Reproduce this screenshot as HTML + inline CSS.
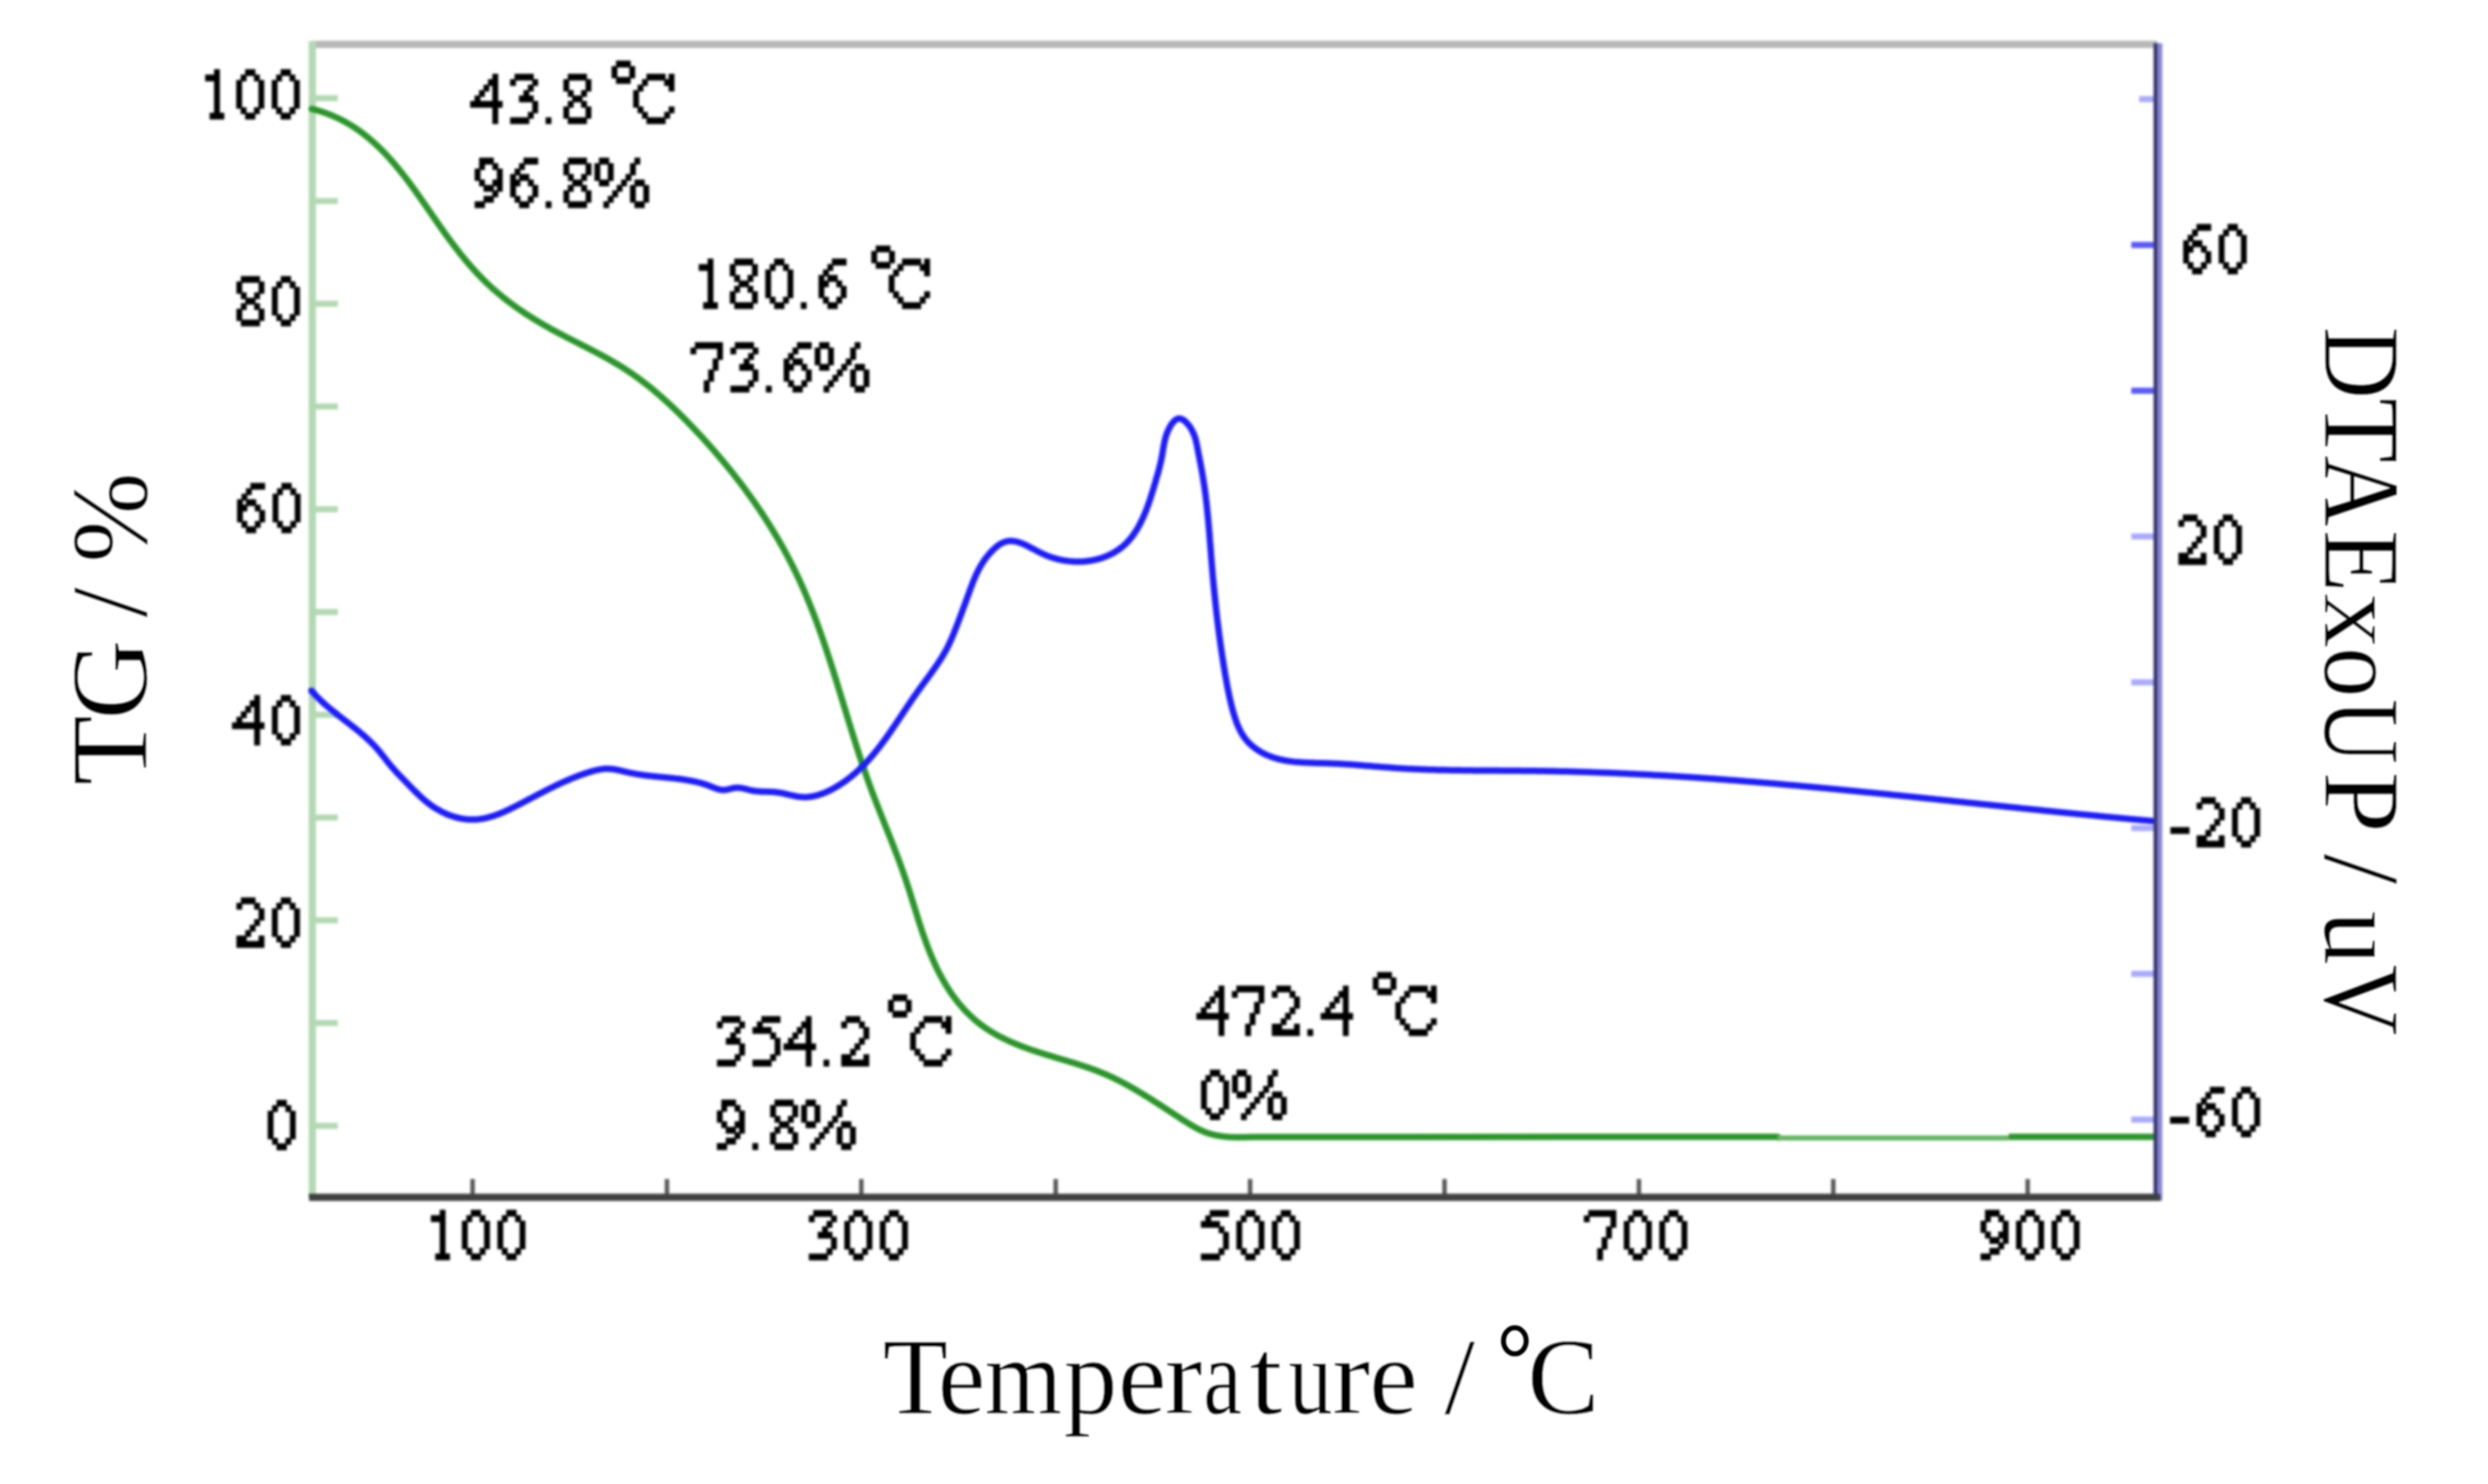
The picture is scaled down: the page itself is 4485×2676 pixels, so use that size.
<!DOCTYPE html>
<html><head><meta charset="utf-8"><title>TG-DTA</title>
<style>html,body{margin:0;padding:0;background:#fff;width:4485px;height:2676px;overflow:hidden}svg{display:block}</style>
</head><body>
<svg xmlns="http://www.w3.org/2000/svg" width="4485" height="2676" viewBox="0 0 4485 2676"><defs><filter id="bl" filterUnits="userSpaceOnUse" x="0" y="0" width="4485" height="2676"><feGaussianBlur stdDeviation="1.9"/></filter><filter id="bl2" filterUnits="userSpaceOnUse" x="0" y="0" width="4485" height="2676"><feGaussianBlur stdDeviation="2.2"/></filter><filter id="bl3" filterUnits="userSpaceOnUse" x="0" y="0" width="4485" height="2676"><feGaussianBlur stdDeviation="1.4"/></filter></defs>
<rect x="0" y="0" width="4485" height="2676" fill="#ffffff"/>
<g filter="url(#bl2)"><rect x="563.0" y="73.5" width="3326.0" height="13.0" fill="#b8b8b8"/><rect x="556.5" y="74.0" width="13.0" height="2085.0" fill="#b3d9b3"/><rect x="563.0" y="2024.6" width="46.0" height="11.0" fill="#b3d9b3"/><rect x="563.0" y="1839.3" width="46.0" height="11.0" fill="#b3d9b3"/><rect x="563.0" y="1654.0" width="46.0" height="11.0" fill="#b3d9b3"/><rect x="563.0" y="1468.7" width="46.0" height="11.0" fill="#b3d9b3"/><rect x="563.0" y="1283.4" width="46.0" height="11.0" fill="#b3d9b3"/><rect x="563.0" y="1098.1" width="46.0" height="11.0" fill="#b3d9b3"/><rect x="563.0" y="912.8" width="46.0" height="11.0" fill="#b3d9b3"/><rect x="563.0" y="727.5" width="46.0" height="11.0" fill="#b3d9b3"/><rect x="563.0" y="542.2" width="46.0" height="11.0" fill="#b3d9b3"/><rect x="563.0" y="356.9" width="46.0" height="11.0" fill="#b3d9b3"/><rect x="563.0" y="171.6" width="46.0" height="11.0" fill="#b3d9b3"/><rect x="3842.0" y="2013.4" width="47.0" height="11.0" fill="#aaaaff"/><rect x="3842.0" y="1750.5" width="47.0" height="11.0" fill="#aaaaff"/><rect x="3842.0" y="1487.7" width="47.0" height="11.0" fill="#aaaaff"/><rect x="3842.0" y="1224.8" width="47.0" height="11.0" fill="#aaaaff"/><rect x="3842.0" y="961.9" width="47.0" height="11.0" fill="#aaaaff"/><rect x="3842.0" y="699.1" width="47.0" height="11.0" fill="#5a5aff"/><rect x="3842.0" y="436.2" width="47.0" height="11.0" fill="#5a5aff"/><rect x="3856.0" y="173.3" width="33.0" height="11.0" fill="#aaaaff"/><rect x="847.9" y="2126.0" width="8.0" height="33.0" fill="#5a5a5a"/><rect x="1198.3" y="2126.0" width="8.0" height="33.0" fill="#5a5a5a"/><rect x="1548.7" y="2126.0" width="8.0" height="33.0" fill="#5a5a5a"/><rect x="1899.1" y="2126.0" width="8.0" height="33.0" fill="#5a5a5a"/><rect x="2249.5" y="2126.0" width="8.0" height="33.0" fill="#5a5a5a"/><rect x="2600.0" y="2126.0" width="8.0" height="33.0" fill="#5a5a5a"/><rect x="2950.4" y="2126.0" width="8.0" height="33.0" fill="#5a5a5a"/><rect x="3300.8" y="2126.0" width="8.0" height="33.0" fill="#5a5a5a"/><rect x="3651.2" y="2126.0" width="8.0" height="33.0" fill="#5a5a5a"/></g>
<path d="M562.1 196.4L566.3 197.5 570.4 198.6 574.5 199.8 578.5 201.0 582.5 202.3 586.4 203.7 590.3 205.1 594.2 206.6 598.0 208.1 601.7 209.7 605.4 211.4 609.1 213.1 612.7 214.8 616.3 216.6 619.8 218.5 623.3 220.4 626.7 222.4 630.1 224.4 633.5 226.4 636.8 228.5 640.1 230.7 643.4 232.9 646.6 235.1 649.8 237.4 652.9 239.7 656.0 242.1 659.1 244.5 662.1 247.0 665.2 249.5 668.1 252.0 671.1 254.6 674.0 257.2 676.9 259.8 679.8 262.5 682.6 265.2 685.4 267.9 688.2 270.7 691.0 273.5 693.7 276.3 696.4 279.2 699.1 282.1 701.7 285.0 704.4 288.0 707.0 290.9 709.6 293.9 712.2 297.0 714.7 300.0 717.2 303.1 719.8 306.2 722.3 309.3 724.8 312.4 727.2 315.5 729.7 318.7 732.1 321.9 734.5 325.1 737.0 328.3 739.4 331.5 741.7 334.8 744.1 338.0 746.5 341.3 748.9 344.6 751.2 347.8 753.5 351.1 755.9 354.4 758.2 357.7 760.5 361.0 762.8 364.4 765.2 367.7 767.5 371.0 769.8 374.3 772.1 377.7 774.4 381.0 776.7 384.3 779.0 387.7 781.3 391.0 783.6 394.3 785.9 397.6 788.2 401.0 790.5 404.3 792.8 407.6 795.2 410.9 797.5 414.2 799.8 417.4 802.1 420.7 804.5 424.0 806.9 427.2 809.2 430.5 811.6 433.7 814.0 436.9 816.4 440.1 818.8 443.3 821.2 446.5 823.6 449.6 826.1 452.8 828.5 455.9 831.0 459.0 833.5 462.1 836.0 465.2 838.5 468.2 841.1 471.3 843.6 474.3 846.2 477.3 848.8 480.3 851.4 483.3 854.1 486.2 856.7 489.1 859.4 492.0 862.1 494.9 864.9 497.8 867.6 500.6 870.4 503.4 873.2 506.2 876.0 509.0 878.9 511.7 881.8 514.4 884.7 517.1 887.6 519.8 890.6 522.4 893.6 525.0 896.6 527.6 899.7 530.2 902.7 532.7 905.8 535.3 908.9 537.8 912.1 540.2 915.2 542.7 918.4 545.1 921.6 547.5 924.8 549.9 928.1 552.2 931.3 554.6 934.6 556.9 937.9 559.1 941.2 561.4 944.5 563.6 947.9 565.9 951.2 568.1 954.6 570.2 958.0 572.4 961.4 574.5 964.8 576.6 968.2 578.7 971.7 580.8 975.1 582.8 978.6 584.9 982.1 586.9 985.5 588.8 989.0 590.8 992.5 592.8 996.0 594.7 999.5 596.6 1003.1 598.5 1006.6 600.4 1010.1 602.2 1013.7 604.1 1017.2 605.9 1020.7 607.8 1024.3 609.6 1027.8 611.4 1031.4 613.2 1034.9 615.0 1038.5 616.8 1042.0 618.7 1045.6 620.5 1049.1 622.3 1052.7 624.1 1056.2 625.9 1059.7 627.7 1063.3 629.5 1066.8 631.3 1070.3 633.2 1073.8 635.0 1077.3 636.8 1080.8 638.7 1084.3 640.6 1087.8 642.5 1091.3 644.4 1094.7 646.3 1098.2 648.2 1101.6 650.2 1105.0 652.2 1108.4 654.2 1111.8 656.2 1115.2 658.2 1118.6 660.3 1121.9 662.4 1125.3 664.5 1128.6 666.7 1131.9 668.9 1135.2 671.1 1138.4 673.3 1141.7 675.6 1144.9 677.9 1148.2 680.2 1151.4 682.5 1154.5 684.9 1157.7 687.3 1160.9 689.7 1164.0 692.1 1167.1 694.6 1170.2 697.1 1173.3 699.6 1176.4 702.1 1179.5 704.7 1182.5 707.3 1185.6 709.9 1188.6 712.5 1191.6 715.1 1194.6 717.8 1197.6 720.5 1200.5 723.1 1203.5 725.9 1206.5 728.6 1209.4 731.3 1212.3 734.1 1215.2 736.8 1218.1 739.6 1221.0 742.4 1223.9 745.2 1226.7 748.1 1229.6 750.9 1232.4 753.7 1235.2 756.6 1238.1 759.5 1240.9 762.4 1243.7 765.3 1246.5 768.2 1249.2 771.1 1252.0 774.0 1254.8 776.9 1257.5 779.8 1260.2 782.8 1263.0 785.7 1265.7 788.7 1268.4 791.7 1271.1 794.6 1273.8 797.6 1276.5 800.6 1279.1 803.6 1281.8 806.6 1284.4 809.6 1287.1 812.6 1289.7 815.7 1292.3 818.7 1294.9 821.7 1297.5 824.8 1300.1 827.9 1302.7 830.9 1305.2 834.0 1307.8 837.1 1310.3 840.2 1312.9 843.3 1315.4 846.4 1317.9 849.5 1320.4 852.6 1322.9 855.8 1325.3 858.9 1327.8 862.1 1330.2 865.2 1332.7 868.4 1335.1 871.6 1337.5 874.7 1339.9 877.9 1342.3 881.1 1344.6 884.3 1347.0 887.6 1349.3 890.8 1351.7 894.0 1354.0 897.3 1356.3 900.5 1358.6 903.8 1360.9 907.0 1363.1 910.3 1365.4 913.6 1367.6 916.9 1369.9 920.2 1372.1 923.5 1374.3 926.8 1376.4 930.1 1378.6 933.4 1380.8 936.8 1382.9 940.1 1385.0 943.5 1387.2 946.8 1389.3 950.2 1391.3 953.6 1393.4 957.0 1395.5 960.4 1397.5 963.8 1399.5 967.2 1401.6 970.6 1403.6 974.0 1405.5 977.5 1407.5 980.9 1409.5 984.4 1411.4 987.8 1413.3 991.3 1415.2 994.8 1417.1 998.3 1419.0 1001.8 1420.8 1005.3 1422.7 1008.8 1424.5 1012.3 1426.3 1015.8 1428.1 1019.4 1429.9 1022.9 1431.6 1026.5 1433.4 1030.0 1435.1 1033.6 1436.8 1037.2 1438.5 1040.8 1440.2 1044.4 1441.9 1048.0 1443.5 1051.6 1445.1 1055.2 1446.8 1058.8 1448.4 1062.5 1449.9 1066.1 1451.5 1069.8 1453.1 1073.4 1454.6 1077.1 1456.1 1080.8 1457.6 1084.4 1459.1 1088.1 1460.6 1091.8 1462.1 1095.5 1463.6 1099.2 1465.0 1102.9 1466.5 1106.7 1467.9 1110.4 1469.3 1114.1 1470.7 1117.8 1472.1 1121.6 1473.5 1125.3 1474.8 1129.1 1476.2 1132.8 1477.5 1136.6 1478.9 1140.4 1480.2 1144.1 1481.5 1147.9 1482.9 1151.7 1484.2 1155.5 1485.5 1159.3 1486.7 1163.1 1488.0 1166.9 1489.3 1170.7 1490.6 1174.5 1491.8 1178.3 1493.1 1182.1 1494.3 1185.9 1495.6 1189.7 1496.8 1193.5 1498.0 1197.3 1499.2 1201.2 1500.5 1205.0 1501.7 1208.8 1502.9 1212.7 1504.1 1216.5 1505.3 1220.3 1506.5 1224.2 1507.7 1228.0 1508.9 1231.8 1510.0 1235.7 1511.2 1239.5 1512.4 1243.4 1513.6 1247.2 1514.8 1251.1 1515.9 1254.9 1517.1 1258.8 1518.3 1262.6 1519.5 1266.4 1520.6 1270.3 1521.8 1274.1 1523.0 1278.0 1524.2 1281.8 1525.3 1285.7 1526.5 1289.5 1527.7 1293.4 1528.9 1297.2 1530.0 1301.1 1531.2 1304.9 1532.4 1308.7 1533.6 1312.6 1534.8 1316.4 1536.0 1320.3 1537.2 1324.1 1538.4 1327.9 1539.6 1331.7 1540.8 1335.6 1542.0 1339.4 1543.2 1343.2 1544.4 1347.0 1545.6 1350.9 1546.9 1354.7 1548.1 1358.5 1549.3 1362.3 1550.6 1366.1 1551.8 1369.9 1553.1 1373.7 1554.4 1377.5 1555.6 1381.3 1556.9 1385.1 1558.2 1388.8 1559.5 1392.6 1560.8 1396.4 1562.1 1400.1 1563.5 1403.9 1564.8 1407.7 1566.1 1411.4 1567.5 1415.2 1568.9 1418.9 1570.2 1422.6 1571.6 1426.4 1573.0 1430.1 1574.4 1433.8 1575.8 1437.5 1577.2 1441.2 1578.7 1445.0 1580.1 1448.7 1581.5 1452.4 1583.0 1456.1 1584.4 1459.8 1585.9 1463.4 1587.4 1467.1 1588.8 1470.8 1590.3 1474.5 1591.8 1478.2 1593.2 1481.9 1594.7 1485.6 1596.2 1489.3 1597.6 1493.0 1599.1 1496.6 1600.6 1500.3 1602.1 1504.0 1603.5 1507.7 1605.0 1511.4 1606.4 1515.1 1607.9 1518.8 1609.3 1522.5 1610.8 1526.2 1612.2 1529.9 1613.6 1533.6 1615.1 1537.3 1616.5 1541.1 1617.9 1544.8 1619.3 1548.5 1620.7 1552.2 1622.1 1556.0 1623.4 1559.7 1624.8 1563.5 1626.1 1567.2 1627.5 1571.0 1628.8 1574.8 1630.1 1578.6 1631.4 1582.4 1632.7 1586.2 1633.9 1590.0 1635.2 1593.8 1636.4 1597.6 1637.7 1601.4 1638.9 1605.3 1640.1 1609.1 1641.3 1612.9 1642.5 1616.8 1643.7 1620.6 1644.9 1624.5 1646.1 1628.3 1647.3 1632.2 1648.5 1636.0 1649.7 1639.9 1650.9 1643.7 1652.1 1647.6 1653.3 1651.4 1654.5 1655.3 1655.7 1659.1 1656.9 1663.0 1658.2 1666.8 1659.4 1670.6 1660.7 1674.4 1661.9 1678.3 1663.2 1682.1 1664.5 1685.9 1665.9 1689.7 1667.2 1693.4 1668.5 1697.2 1669.9 1701.0 1671.3 1704.7 1672.7 1708.5 1674.2 1712.2 1675.6 1715.9 1677.1 1719.6 1678.7 1723.3 1680.2 1727.0 1681.8 1730.7 1683.4 1734.3 1685.0 1737.9 1686.7 1741.5 1688.4 1745.1 1690.1 1748.7 1691.9 1752.3 1693.7 1755.8 1695.6 1759.3 1697.5 1762.8 1699.4 1766.3 1701.4 1769.8 1703.4 1773.2 1705.4 1776.6 1707.5 1780.0 1709.7 1783.4 1711.8 1786.7 1714.1 1790.0 1716.3 1793.3 1718.6 1796.5 1721.0 1799.7 1723.4 1802.8 1725.8 1806.0 1728.3 1809.1 1730.8 1812.1 1733.4 1815.1 1736.0 1818.1 1738.7 1821.0 1741.4 1823.9 1744.2 1826.7 1747.0 1829.5 1749.8 1832.2 1752.7 1834.9 1755.7 1837.5 1758.6 1840.1 1761.7 1842.7 1764.8 1845.1 1767.9 1847.5 1771.1 1849.9 1774.3 1852.2 1777.6 1854.5 1780.9 1856.6 1784.2 1858.8 1787.6 1860.9 1791.0 1862.9 1794.5 1864.9 1798.0 1866.9 1801.5 1868.8 1805.1 1870.6 1808.7 1872.4 1812.3 1874.2 1816.0 1875.9 1819.6 1877.6 1823.3 1879.2 1827.0 1880.8 1830.7 1882.4 1834.5 1883.9 1838.3 1885.4 1842.0 1886.9 1845.8 1888.3 1849.6 1889.7 1853.4 1891.1 1857.2 1892.4 1861.1 1893.8 1864.9 1895.1 1868.7 1896.3 1872.6 1897.6 1876.4 1898.8 1880.3 1900.0 1884.1 1901.2 1888.0 1902.4 1891.9 1903.6 1895.7 1904.8 1899.6 1905.9 1903.4 1907.1 1907.3 1908.2 1911.2 1909.4 1915.0 1910.5 1918.9 1911.7 1922.7 1912.8 1926.6 1914.0 1930.4 1915.2 1934.3 1916.3 1938.1 1917.5 1941.9 1918.7 1945.7 1919.9 1949.5 1921.2 1953.3 1922.4 1957.1 1923.7 1960.9 1925.0 1964.7 1926.3 1968.4 1927.6 1972.2 1929.0 1975.9 1930.4 1979.6 1931.8 1983.3 1933.3 1987.0 1934.8 1990.6 1936.3 1994.3 1937.9 1997.9 1939.5 2001.5 1941.1 2005.1 1942.8 2008.7 1944.5 2012.2 1946.3 2015.8 1948.0 2019.3 1949.8 2022.8 1951.7 2026.3 1953.5 2029.8 1955.4 2033.3 1957.3 2036.8 1959.3 2040.3 1961.2 2043.7 1963.2 2047.2 1965.2 2050.6 1967.2 2054.0 1969.3 2057.4 1971.3 2060.8 1973.4 2064.2 1975.5 2067.6 1977.6 2071.0 1979.7 2074.4 1981.8 2077.7 1984.0 2081.1 1986.1 2084.5 1988.3 2087.8 1990.4 2091.2 1992.6 2094.5 1994.8 2097.9 1997.0 2101.2 1999.1 2104.6 2001.3 2107.9 2003.5 2111.2 2005.7 2114.6 2007.9 2117.9 2010.1 2121.3 2012.2 2124.6 2014.4 2127.9 2016.6 2131.3 2018.8 2134.6 2020.9 2138.0 2023.0 2141.3 2025.2 2144.7 2027.3 2148.1 2029.3 2151.5 2031.3 2155.0 2033.2 2158.4 2035.1 2162.0 2036.9 2165.5 2038.5 2169.1 2040.1 2172.7 2041.6 2176.4 2043.0 2180.2 2044.2 2184.0 2045.3 2187.9 2046.3 2191.8 2047.1 2195.7 2047.9 2199.7 2048.5 2203.8 2049.1 2207.8 2049.5 2211.9 2049.9 2215.9 2050.2 2220.0 2050.4 2224.1 2050.6 2228.2 2050.7 2232.2 2050.8 2236.3 2050.8 2240.3 2050.7 2244.4 2050.7 2248.3 2050.6 2252.3 2050.5 2256.2 2050.3 2260.1 2050.2 L3204 2050" fill="none" stroke="#2c962c" stroke-width="11.5" stroke-linejoin="round" stroke-linecap="round" filter="url(#bl)"/>
<g filter="url(#bl)"><path d="M3204 2052 L3621 2052" fill="none" stroke="#62b662" stroke-width="9"/><path d="M3621 2050 L3890 2050" fill="none" stroke="#2c962c" stroke-width="11.5"/></g>
<path d="M561.5 1245.4L564.1 1248.4 566.8 1251.4 569.5 1254.3 572.2 1257.2 575.0 1260.0 577.9 1262.7 580.8 1265.5 583.7 1268.2 586.7 1270.8 589.7 1273.4 592.7 1276.0 595.8 1278.6 598.9 1281.1 602.0 1283.6 605.1 1286.1 608.2 1288.6 611.4 1291.0 614.5 1293.5 617.7 1295.9 620.8 1298.4 624.0 1300.8 627.2 1303.3 630.3 1305.7 633.5 1308.2 636.6 1310.7 639.7 1313.1 642.9 1315.6 646.0 1318.2 649.0 1320.7 652.1 1323.3 655.1 1325.9 658.1 1328.5 661.0 1331.2 663.9 1333.9 666.8 1336.6 669.6 1339.4 672.4 1342.2 675.2 1345.1 677.8 1348.1 680.5 1351.1 683.1 1354.1 685.6 1357.2 688.1 1360.3 690.6 1363.4 693.1 1366.5 695.6 1369.7 698.1 1372.8 700.5 1375.9 703.0 1379.0 705.5 1382.1 708.1 1385.1 710.7 1388.0 713.3 1390.9 715.9 1393.8 718.6 1396.6 721.4 1399.4 724.1 1402.2 726.8 1405.0 729.6 1407.8 732.4 1410.7 735.1 1413.6 737.9 1416.5 740.7 1419.4 743.6 1422.3 746.4 1425.2 749.3 1428.0 752.2 1430.9 755.1 1433.7 758.1 1436.5 761.1 1439.2 764.1 1441.9 767.2 1444.5 770.4 1447.1 773.6 1449.6 776.8 1452.0 780.1 1454.3 783.5 1456.5 786.9 1458.6 790.4 1460.6 793.9 1462.6 797.5 1464.4 801.1 1466.1 804.7 1467.8 808.4 1469.3 812.1 1470.7 815.8 1471.9 819.6 1473.1 823.4 1474.1 827.2 1475.1 831.0 1475.9 834.8 1476.5 838.7 1477.1 842.6 1477.5 846.4 1477.7 850.3 1477.8 854.2 1477.8 858.1 1477.7 861.9 1477.4 865.8 1476.9 869.7 1476.3 873.5 1475.6 877.4 1474.7 881.2 1473.7 885.0 1472.6 888.9 1471.5 892.7 1470.2 896.5 1468.8 900.3 1467.3 904.1 1465.8 907.8 1464.2 911.6 1462.5 915.3 1460.8 919.0 1459.0 922.7 1457.2 926.4 1455.4 930.1 1453.5 933.8 1451.7 937.4 1449.8 941.0 1447.9 944.7 1446.0 948.2 1444.1 951.8 1442.2 955.4 1440.3 958.9 1438.5 962.5 1436.6 966.0 1434.8 969.5 1432.9 973.1 1431.1 976.6 1429.3 980.1 1427.5 983.6 1425.7 987.1 1423.9 990.6 1422.1 994.2 1420.4 997.7 1418.6 1001.2 1416.9 1004.8 1415.2 1008.3 1413.6 1011.9 1411.9 1015.4 1410.3 1019.0 1408.7 1022.7 1407.1 1026.3 1405.6 1029.9 1404.0 1033.6 1402.5 1037.3 1401.1 1041.0 1399.6 1044.7 1398.2 1048.5 1396.9 1052.3 1395.5 1056.1 1394.2 1060.0 1393.0 1063.9 1391.7 1067.8 1390.6 1071.7 1389.5 1075.7 1388.6 1079.6 1387.8 1083.6 1387.1 1087.6 1386.6 1091.5 1386.3 1095.5 1386.2 1099.4 1386.4 1103.4 1386.7 1107.3 1387.3 1111.2 1388.0 1115.1 1388.8 1119.0 1389.7 1122.9 1390.6 1126.9 1391.6 1130.8 1392.5 1134.7 1393.4 1138.6 1394.2 1142.6 1394.9 1146.5 1395.6 1150.4 1396.3 1154.4 1396.9 1158.3 1397.5 1162.3 1398.0 1166.3 1398.5 1170.2 1399.0 1174.2 1399.4 1178.2 1399.8 1182.1 1400.2 1186.1 1400.6 1190.1 1401.0 1194.1 1401.4 1198.0 1401.8 1202.0 1402.2 1206.0 1402.6 1210.0 1403.0 1214.0 1403.4 1217.9 1403.9 1221.9 1404.3 1225.9 1404.8 1229.8 1405.4 1233.8 1406.0 1237.8 1406.6 1241.7 1407.3 1245.7 1408.0 1249.6 1408.8 1253.6 1409.6 1257.5 1410.5 1261.4 1411.5 1265.3 1412.6 1269.2 1413.7 1273.0 1415.0 1276.8 1416.4 1280.6 1417.9 1284.3 1419.4 1288.1 1420.9 1291.8 1422.2 1295.5 1423.3 1299.2 1424.1 1302.9 1424.5 1306.6 1424.4 1310.3 1423.9 1314.0 1423.0 1317.8 1422.1 1321.5 1421.2 1325.3 1420.6 1329.1 1420.4 1333.0 1420.6 1336.8 1421.1 1340.7 1421.9 1344.5 1422.8 1348.4 1423.8 1352.3 1424.8 1356.3 1425.7 1360.2 1426.3 1364.2 1426.8 1368.1 1427.1 1372.1 1427.4 1376.1 1427.5 1380.1 1427.6 1384.1 1427.7 1388.1 1427.8 1392.1 1428.0 1396.1 1428.3 1400.1 1428.7 1404.1 1429.2 1408.1 1429.9 1412.0 1430.7 1416.0 1431.6 1420.0 1432.6 1423.9 1433.5 1427.9 1434.4 1431.8 1435.2 1435.8 1436.0 1439.7 1436.6 1443.6 1437.1 1447.6 1437.3 1451.5 1437.4 1455.5 1437.2 1459.4 1436.8 1463.3 1436.3 1467.2 1435.5 1471.1 1434.6 1475.0 1433.6 1478.9 1432.3 1482.7 1431.0 1486.5 1429.5 1490.2 1427.9 1493.9 1426.2 1497.6 1424.4 1501.2 1422.5 1504.8 1420.5 1508.3 1418.5 1511.7 1416.4 1515.1 1414.3 1518.5 1412.0 1521.8 1409.8 1525.0 1407.5 1528.2 1405.1 1531.3 1402.7 1534.4 1400.2 1537.5 1397.7 1540.5 1395.2 1543.5 1392.6 1546.4 1389.9 1549.3 1387.2 1552.1 1384.5 1554.9 1381.7 1557.7 1378.9 1560.4 1376.1 1563.1 1373.2 1565.8 1370.3 1568.4 1367.3 1571.0 1364.3 1573.6 1361.3 1576.1 1358.3 1578.6 1355.2 1581.1 1352.1 1583.6 1349.0 1586.0 1345.8 1588.4 1342.7 1590.8 1339.5 1593.2 1336.3 1595.6 1333.0 1597.9 1329.8 1600.3 1326.5 1602.6 1323.2 1604.9 1319.9 1607.2 1316.6 1609.4 1313.3 1611.7 1310.0 1614.0 1306.6 1616.2 1303.3 1618.4 1299.9 1620.7 1296.6 1622.9 1293.2 1625.2 1289.8 1627.4 1286.5 1629.6 1283.1 1631.9 1279.8 1634.1 1276.4 1636.3 1273.0 1638.6 1269.7 1640.9 1266.4 1643.1 1263.0 1645.4 1259.7 1647.7 1256.4 1650.0 1253.1 1652.3 1249.8 1654.6 1246.6 1656.9 1243.3 1659.3 1240.1 1661.6 1236.8 1664.0 1233.6 1666.4 1230.4 1668.7 1227.2 1671.1 1224.0 1673.4 1220.8 1675.8 1217.6 1678.1 1214.4 1680.4 1211.2 1682.7 1207.9 1685.0 1204.7 1687.2 1201.5 1689.5 1198.2 1691.6 1194.9 1693.8 1191.6 1695.9 1188.3 1698.0 1185.0 1700.0 1181.6 1702.0 1178.3 1704.0 1174.8 1705.8 1171.4 1707.7 1167.9 1709.4 1164.4 1711.2 1160.8 1712.8 1157.2 1714.4 1153.6 1716.0 1150.0 1717.6 1146.3 1719.1 1142.6 1720.6 1138.9 1722.0 1135.2 1723.5 1131.4 1725.0 1127.6 1726.4 1123.9 1727.9 1120.1 1729.3 1116.3 1730.7 1112.5 1732.2 1108.7 1733.6 1104.9 1735.0 1101.1 1736.4 1097.3 1737.8 1093.5 1739.2 1089.7 1740.6 1085.9 1742.0 1082.1 1743.3 1078.4 1744.7 1074.6 1746.1 1070.9 1747.4 1067.2 1748.7 1063.5 1750.1 1059.8 1751.5 1056.2 1752.8 1052.6 1754.2 1049.0 1755.7 1045.4 1757.2 1041.8 1758.7 1038.3 1760.3 1034.8 1762.0 1031.2 1763.8 1027.8 1765.6 1024.3 1767.6 1020.8 1769.7 1017.4 1771.9 1013.9 1774.2 1010.5 1776.6 1007.1 1779.2 1003.7 1782.0 1000.4 1784.9 997.0 1788.0 993.7 1791.2 990.5 1794.5 987.5 1797.9 984.7 1801.3 982.2 1804.8 980.0 1808.3 978.3 1811.7 977.0 1815.2 976.2 1818.7 975.6 1822.1 975.5 1825.6 975.6 1829.1 976.1 1832.6 976.8 1836.1 977.8 1839.6 978.9 1843.1 980.3 1846.6 981.8 1850.2 983.5 1853.8 985.3 1857.4 987.2 1861.0 989.1 1864.7 991.0 1868.4 993.0 1872.1 994.9 1875.9 996.8 1879.7 998.6 1883.5 1000.4 1887.4 1002.0 1891.3 1003.5 1895.2 1004.9 1899.2 1006.1 1903.2 1007.3 1907.2 1008.3 1911.3 1009.3 1915.3 1010.1 1919.4 1010.8 1923.4 1011.4 1927.5 1011.9 1931.6 1012.3 1935.6 1012.6 1939.7 1012.7 1943.8 1012.8 1947.8 1012.7 1951.8 1012.5 1955.8 1012.2 1959.8 1011.8 1963.8 1011.3 1967.7 1010.7 1971.6 1009.9 1975.4 1009.1 1979.3 1008.1 1983.0 1007.1 1986.8 1005.9 1990.4 1004.6 1994.1 1003.2 1997.6 1001.7 2001.1 1000.0 2004.6 998.3 2007.9 996.4 2011.2 994.5 2014.5 992.4 2017.6 990.2 2020.7 987.9 2023.7 985.5 2026.6 983.0 2029.4 980.4 2032.1 977.6 2034.8 974.8 2037.3 971.8 2039.7 968.8 2042.1 965.7 2044.4 962.4 2046.6 959.1 2048.8 955.7 2050.8 952.3 2052.8 948.8 2054.7 945.2 2056.6 941.5 2058.4 937.8 2060.2 934.1 2061.8 930.3 2063.5 926.5 2065.1 922.6 2066.6 918.7 2068.1 914.8 2069.5 910.8 2070.9 906.9 2072.3 902.9 2073.6 898.9 2074.9 895.0 2076.1 891.0 2077.4 887.0 2078.6 883.1 2079.8 879.2 2080.9 875.3 2082.1 871.4 2083.2 867.5 2084.3 863.7 2085.4 859.9 2086.5 856.1 2087.6 852.4 2088.6 848.7 2089.6 844.9 2090.5 841.2 2091.4 837.5 2092.3 833.8 2093.1 830.0 2093.9 826.3 2094.6 822.5 2095.3 818.7 2095.9 814.9 2096.5 811.1 2097.2 807.2 2097.8 803.4 2098.6 799.5 2099.4 795.6 2100.3 791.7 2101.4 787.8 2102.6 783.9 2104.1 780.0 2105.8 776.0 2107.7 772.1 2109.9 768.2 2112.3 764.4 2115.1 760.9 2118.0 758.0 2121.0 755.9 2124.3 754.7 2127.6 754.8 2131.0 756.0 2134.3 758.0 2137.5 760.8 2140.6 764.1 2143.5 767.7 2146.1 771.4 2148.3 775.2 2150.2 779.0 2151.9 782.7 2153.4 786.5 2154.6 790.3 2155.7 794.1 2156.6 798.0 2157.5 801.8 2158.2 805.6 2159.0 809.5 2159.7 813.4 2160.4 817.2 2161.2 821.1 2161.9 825.0 2162.7 828.9 2163.4 832.9 2164.2 836.8 2164.9 840.7 2165.7 844.7 2166.4 848.6 2167.1 852.6 2167.8 856.5 2168.4 860.5 2169.1 864.4 2169.7 868.4 2170.3 872.4 2170.9 876.3 2171.5 880.3 2172.0 884.3 2172.5 888.2 2173.1 892.2 2173.6 896.2 2174.0 900.1 2174.5 904.1 2175.0 908.1 2175.4 912.0 2175.8 916.0 2176.2 920.0 2176.6 924.0 2177.0 927.9 2177.4 931.9 2177.8 935.9 2178.2 939.9 2178.5 943.8 2178.9 947.8 2179.2 951.8 2179.5 955.8 2179.9 959.8 2180.2 963.7 2180.5 967.7 2180.8 971.7 2181.1 975.7 2181.5 979.7 2181.8 983.7 2182.1 987.7 2182.4 991.6 2182.7 995.6 2183.0 999.6 2183.3 1003.6 2183.6 1007.6 2184.0 1011.6 2184.3 1015.6 2184.6 1019.5 2185.0 1023.5 2185.3 1027.5 2185.6 1031.5 2186.0 1035.5 2186.3 1039.5 2186.7 1043.5 2187.1 1047.4 2187.4 1051.4 2187.8 1055.4 2188.2 1059.4 2188.6 1063.4 2189.0 1067.4 2189.4 1071.3 2189.8 1075.3 2190.2 1079.3 2190.6 1083.3 2191.0 1087.3 2191.4 1091.3 2191.9 1095.2 2192.3 1099.2 2192.8 1103.2 2193.2 1107.2 2193.7 1111.1 2194.1 1115.1 2194.6 1119.1 2195.1 1123.1 2195.6 1127.0 2196.1 1131.0 2196.6 1135.0 2197.1 1138.9 2197.6 1142.9 2198.1 1146.9 2198.6 1150.8 2199.2 1154.8 2199.7 1158.7 2200.3 1162.7 2200.8 1166.7 2201.4 1170.6 2202.0 1174.6 2202.6 1178.5 2203.2 1182.5 2203.8 1186.4 2204.4 1190.4 2205.0 1194.3 2205.6 1198.2 2206.3 1202.2 2206.9 1206.1 2207.6 1210.0 2208.2 1214.0 2208.9 1217.9 2209.6 1221.8 2210.3 1225.8 2211.0 1229.7 2211.7 1233.6 2212.4 1237.5 2213.2 1241.4 2214.0 1245.3 2214.8 1249.3 2215.6 1253.2 2216.4 1257.1 2217.3 1261.0 2218.2 1264.9 2219.1 1268.8 2220.1 1272.7 2221.1 1276.6 2222.1 1280.5 2223.2 1284.4 2224.4 1288.3 2225.5 1292.2 2226.8 1296.1 2228.1 1299.9 2229.5 1303.8 2231.0 1307.5 2232.6 1311.2 2234.3 1314.9 2236.1 1318.5 2238.0 1322.0 2240.1 1325.4 2242.3 1328.7 2244.6 1331.9 2247.1 1335.0 2249.8 1338.0 2252.6 1340.9 2255.6 1343.6 2258.6 1346.2 2261.8 1348.7 2265.1 1351.1 2268.4 1353.3 2271.9 1355.4 2275.4 1357.4 2278.9 1359.3 2282.5 1361.0 2286.2 1362.5 2289.9 1364.0 2293.6 1365.4 2297.3 1366.6 2301.1 1367.7 2305.0 1368.8 2308.8 1369.7 2312.7 1370.5 2316.6 1371.3 2320.5 1372.0 2324.5 1372.6 2328.5 1373.1 2332.5 1373.6 2336.5 1374.0 2340.5 1374.3 2344.5 1374.6 2348.6 1374.9 2352.7 1375.1 2356.7 1375.3 2360.8 1375.5 2364.9 1375.6 2369.0 1375.7 2373.1 1375.9 2377.2 1376.0 2381.3 1376.1 2385.4 1376.2 2389.5 1376.3 2393.5 1376.4 2397.6 1376.6 2401.7 1376.7 2405.7 1376.9 2409.7 1377.1 2413.8 1377.3 2417.8 1377.5 2421.8 1377.8 2425.8 1378.0 2429.8 1378.3 2433.9 1378.6 2437.8 1378.8 2441.8 1379.1 2445.8 1379.4 2449.8 1379.7 2453.8 1380.0 2457.8 1380.4 2461.7 1380.7 2465.7 1381.0 2469.7 1381.3 2473.6 1381.6 2477.6 1382.0 2481.5 1382.3 2485.5 1382.6 2489.5 1382.9 2493.4 1383.2 2497.4 1383.5 2501.3 1383.8 2505.3 1384.1 2509.2 1384.4 2513.2 1384.7 2517.1 1385.0 2521.1 1385.2 2525.1 1385.5 2529.0 1385.7 2533.0 1385.9 2537.0 1386.2 2540.9 1386.4 2544.9 1386.6 2548.9 1386.8 2552.8 1387.0 2556.8 1387.1 2560.8 1387.3 2564.8 1387.5 2568.7 1387.6 2572.7 1387.7 2576.7 1387.9 2580.7 1388.0 2584.7 1388.1 2588.7 1388.2 2592.6 1388.4 2596.6 1388.5 2600.6 1388.5 2604.6 1388.6 2608.6 1388.7 2612.6 1388.8 2616.6 1388.9 2620.6 1388.9 2624.6 1389.0 2628.5 1389.1 2632.5 1389.1 2636.5 1389.2 2640.5 1389.2 2644.5 1389.3 2648.5 1389.3 2652.5 1389.3 2656.5 1389.4 2660.5 1389.4 2664.5 1389.4 2668.5 1389.5 2672.5 1389.5 2676.5 1389.5 2680.5 1389.5 2684.5 1389.6 2688.5 1389.6 2692.5 1389.6 2696.5 1389.6 2700.6 1389.6 2704.6 1389.7 2708.6 1389.7 2712.6 1389.7 2716.6 1389.7 2720.6 1389.7 2724.6 1389.8 2728.6 1389.8 2732.6 1389.8 2736.6 1389.8 2740.6 1389.8 2744.6 1389.9 2748.6 1389.9 2752.6 1389.9 2756.6 1390.0 2760.6 1390.0 2764.6 1390.1 2768.6 1390.1 2772.6 1390.2 2776.6 1390.2 2780.6 1390.3 2784.7 1390.3 2788.7 1390.4 2792.7 1390.5 2796.7 1390.5 2800.7 1390.6 2804.7 1390.7 2808.7 1390.8 2812.7 1390.9 2816.7 1391.0 2820.7 1391.0 2824.7 1391.1 2828.7 1391.2 2832.7 1391.3 2836.7 1391.5 2840.7 1391.6 2844.7 1391.7 2848.7 1391.8 2852.7 1391.9 2856.7 1392.0 2860.7 1392.2 2864.7 1392.3 2868.7 1392.4 2872.7 1392.6 2876.7 1392.7 2880.6 1392.9 2884.6 1393.0 2888.6 1393.2 2892.6 1393.3 2896.6 1393.5 2900.6 1393.6 2904.6 1393.8 2908.6 1394.0 2912.6 1394.1 2916.6 1394.3 2920.6 1394.5 2924.6 1394.7 2928.6 1394.8 2932.6 1395.0 2936.6 1395.2 2940.6 1395.4 2944.6 1395.6 2948.6 1395.8 2952.6 1396.0 2956.5 1396.2 2960.5 1396.4 2964.5 1396.6 2968.5 1396.8 2972.5 1397.0 2976.5 1397.2 2980.5 1397.5 2984.5 1397.7 2988.5 1397.9 2992.5 1398.1 2996.5 1398.4 3000.5 1398.6 3004.4 1398.8 3008.4 1399.1 3012.4 1399.3 3016.4 1399.5 3020.4 1399.8 3024.4 1400.0 3028.4 1400.3 3032.4 1400.5 3036.4 1400.8 3040.4 1401.0 3044.3 1401.3 3048.3 1401.6 3052.3 1401.8 3056.3 1402.1 3060.3 1402.4 3064.3 1402.6 3068.3 1402.9 3072.3 1403.2 3076.2 1403.5 3080.2 1403.8 3084.2 1404.0 3088.2 1404.3 3092.2 1404.6 3096.2 1404.9 3100.2 1405.2 3104.1 1405.5 3108.1 1405.8 3112.1 1406.1 3116.1 1406.4 3120.1 1406.7 3124.1 1407.0 3128.1 1407.3 3132.0 1407.6 3136.0 1407.9 3140.0 1408.2 3144.0 1408.5 3148.0 1408.9 3152.0 1409.2 3155.9 1409.5 3159.9 1409.8 3163.9 1410.1 3167.9 1410.5 3171.9 1410.8 3175.9 1411.1 3179.9 1411.5 3183.8 1411.8 3187.8 1412.1 3191.8 1412.5 3195.8 1412.8 3199.8 1413.1 3203.7 1413.5 3207.7 1413.8 3211.7 1414.2 3215.7 1414.5 3219.7 1414.9 3223.7 1415.2 3227.6 1415.6 3231.6 1415.9 3235.6 1416.3 3239.6 1416.6 3243.6 1417.0 3247.5 1417.4 3251.5 1417.7 3255.5 1418.1 3259.5 1418.5 3263.5 1418.8 3267.4 1419.2 3271.4 1419.6 3275.4 1419.9 3279.4 1420.3 3283.4 1420.7 3287.4 1421.0 3291.3 1421.4 3295.3 1421.8 3299.3 1422.2 3303.3 1422.5 3307.3 1422.9 3311.2 1423.3 3315.2 1423.7 3319.2 1424.1 3323.2 1424.5 3327.1 1424.8 3331.1 1425.2 3335.1 1425.6 3339.1 1426.0 3343.1 1426.4 3347.0 1426.8 3351.0 1427.2 3355.0 1427.6 3359.0 1428.0 3363.0 1428.4 3366.9 1428.7 3370.9 1429.1 3374.9 1429.5 3378.9 1429.9 3382.9 1430.3 3386.8 1430.7 3390.8 1431.1 3394.8 1431.5 3398.8 1431.9 3402.7 1432.3 3406.7 1432.7 3410.7 1433.2 3414.7 1433.6 3418.7 1434.0 3422.6 1434.4 3426.6 1434.8 3430.6 1435.2 3434.6 1435.6 3438.5 1436.0 3442.5 1436.4 3446.5 1436.8 3450.5 1437.2 3454.5 1437.6 3458.4 1438.0 3462.4 1438.5 3466.4 1438.9 3470.4 1439.3 3474.3 1439.7 3478.3 1440.1 3482.3 1440.5 3486.3 1440.9 3490.2 1441.4 3494.2 1441.8 3498.2 1442.2 3502.2 1442.6 3506.2 1443.0 3510.1 1443.4 3514.1 1443.8 3518.1 1444.3 3522.1 1444.7 3526.0 1445.1 3530.0 1445.5 3534.0 1445.9 3538.0 1446.3 3542.0 1446.8 3545.9 1447.2 3549.9 1447.6 3553.9 1448.0 3557.9 1448.4 3561.8 1448.8 3565.8 1449.3 3569.8 1449.7 3573.8 1450.1 3577.7 1450.5 3581.7 1450.9 3585.7 1451.3 3589.7 1451.8 3593.7 1452.2 3597.6 1452.6 3601.6 1453.0 3605.6 1453.4 3609.6 1453.8 3613.5 1454.3 3617.5 1454.7 3621.5 1455.1 3625.5 1455.5 3629.5 1455.9 3633.4 1456.3 3637.4 1456.7 3641.4 1457.1 3645.4 1457.6 3649.3 1458.0 3653.3 1458.4 3657.3 1458.8 3661.3 1459.2 3665.2 1459.6 3669.2 1460.0 3673.2 1460.4 3677.2 1460.8 3681.2 1461.3 3685.1 1461.7 3689.1 1462.1 3693.1 1462.5 3697.1 1462.9 3701.1 1463.3 3705.0 1463.7 3709.0 1464.1 3713.0 1464.5 3717.0 1464.9 3720.9 1465.3 3724.9 1465.7 3728.9 1466.1 3732.9 1466.5 3736.9 1466.9 3740.8 1467.3 3744.8 1467.7 3748.8 1468.1 3752.8 1468.5 3756.8 1468.9 3760.7 1469.3 3764.7 1469.6 3768.7 1470.0 3772.7 1470.4 3776.6 1470.8 3780.6 1471.2 3784.6 1471.6 3788.6 1472.0 3792.6 1472.4 3796.5 1472.7 3800.5 1473.1 3804.5 1473.5 3808.5 1473.9 3812.5 1474.3 3816.4 1474.6 3820.4 1475.0 3824.4 1475.4 3828.4 1475.8 3832.4 1476.1 3836.4 1476.5 3840.3 1476.9 3844.3 1477.2 3848.3 1477.6 3852.3 1478.0 3856.3 1478.3 3860.2 1478.7 3864.2 1479.0 3868.2 1479.4 3872.2 1479.8 3876.2 1480.1 3880.1 1480.5 3884.1 1480.8" fill="none" stroke="#1e1eff" stroke-width="11.5" stroke-linejoin="round" stroke-linecap="round" filter="url(#bl)"/>
<g filter="url(#bl2)"><rect x="3882.0" y="78.0" width="8.0" height="2087.0" fill="#3c3a72"/><rect x="3890.0" y="78.0" width="8.0" height="2087.0" fill="#8a8ad8"/><rect x="557.0" y="2152.5" width="3338.0" height="13.0" fill="#404040"/></g>
<path d="M387.1 125.9h8.0v9.8h-8.0zM371.1 135.7h24.0v9.8h-24.0zM387.1 145.6h8.0v9.8h-8.0zM387.1 155.4h8.0v9.8h-8.0zM387.1 165.2h8.0v9.8h-8.0zM387.1 175.1h8.0v9.8h-8.0zM387.1 184.9h8.0v9.8h-8.0zM387.1 194.7h8.0v9.8h-8.0zM379.1 204.5h24.0v9.8h-24.0zM443.1 125.9h16.0v9.8h-16.0zM435.1 135.7h8.0v9.8h-8.0zM459.1 135.7h8.0v9.8h-8.0zM427.1 145.6h8.0v9.8h-8.0zM467.1 145.6h8.0v9.8h-8.0zM427.1 155.4h8.0v9.8h-8.0zM467.1 155.4h8.0v9.8h-8.0zM427.1 165.2h8.0v9.8h-8.0zM467.1 165.2h8.0v9.8h-8.0zM427.1 175.1h8.0v9.8h-8.0zM467.1 175.1h8.0v9.8h-8.0zM427.1 184.9h8.0v9.8h-8.0zM467.1 184.9h8.0v9.8h-8.0zM435.1 194.7h8.0v9.8h-8.0zM459.1 194.7h8.0v9.8h-8.0zM443.1 204.5h16.0v9.8h-16.0zM507.1 125.9h16.0v9.8h-16.0zM499.1 135.7h8.0v9.8h-8.0zM523.1 135.7h8.0v9.8h-8.0zM491.1 145.6h8.0v9.8h-8.0zM531.1 145.6h8.0v9.8h-8.0zM491.1 155.4h8.0v9.8h-8.0zM531.1 155.4h8.0v9.8h-8.0zM491.1 165.2h8.0v9.8h-8.0zM531.1 165.2h8.0v9.8h-8.0zM491.1 175.1h8.0v9.8h-8.0zM531.1 175.1h8.0v9.8h-8.0zM491.1 184.9h8.0v9.8h-8.0zM531.1 184.9h8.0v9.8h-8.0zM499.1 194.7h8.0v9.8h-8.0zM523.1 194.7h8.0v9.8h-8.0zM507.1 204.5h16.0v9.8h-16.0zM435.4 498.9h32.0v9.8h-32.0zM427.4 508.7h8.0v9.8h-8.0zM467.4 508.7h8.0v9.8h-8.0zM427.4 518.6h8.0v9.8h-8.0zM467.4 518.6h8.0v9.8h-8.0zM435.4 528.4h8.0v9.8h-8.0zM459.4 528.4h8.0v9.8h-8.0zM443.4 538.2h16.0v9.8h-16.0zM435.4 548.0h8.0v9.8h-8.0zM459.4 548.0h8.0v9.8h-8.0zM427.4 557.9h8.0v9.8h-8.0zM467.4 557.9h8.0v9.8h-8.0zM427.4 567.7h8.0v9.8h-8.0zM467.4 567.7h8.0v9.8h-8.0zM435.4 577.5h32.0v9.8h-32.0zM507.4 498.9h16.0v9.8h-16.0zM499.4 508.7h8.0v9.8h-8.0zM523.4 508.7h8.0v9.8h-8.0zM491.4 518.6h8.0v9.8h-8.0zM531.4 518.6h8.0v9.8h-8.0zM491.4 528.4h8.0v9.8h-8.0zM531.4 528.4h8.0v9.8h-8.0zM491.4 538.2h8.0v9.8h-8.0zM531.4 538.2h8.0v9.8h-8.0zM491.4 548.0h8.0v9.8h-8.0zM531.4 548.0h8.0v9.8h-8.0zM491.4 557.9h8.0v9.8h-8.0zM531.4 557.9h8.0v9.8h-8.0zM499.4 567.7h8.0v9.8h-8.0zM523.4 567.7h8.0v9.8h-8.0zM507.4 577.5h16.0v9.8h-16.0zM452.6 871.9h24.0v9.8h-24.0zM444.6 881.7h8.0v9.8h-8.0zM436.6 891.6h8.0v9.8h-8.0zM428.6 901.4h8.0v9.8h-8.0zM444.6 901.4h16.0v9.8h-16.0zM428.6 911.2h16.0v9.8h-16.0zM460.6 911.2h8.0v9.8h-8.0zM428.6 921.0h8.0v9.8h-8.0zM468.6 921.0h8.0v9.8h-8.0zM428.6 930.9h8.0v9.8h-8.0zM468.6 930.9h8.0v9.8h-8.0zM436.6 940.7h8.0v9.8h-8.0zM460.6 940.7h8.0v9.8h-8.0zM444.6 950.5h16.0v9.8h-16.0zM508.6 871.9h16.0v9.8h-16.0zM500.6 881.7h8.0v9.8h-8.0zM524.6 881.7h8.0v9.8h-8.0zM492.6 891.6h8.0v9.8h-8.0zM532.6 891.6h8.0v9.8h-8.0zM492.6 901.4h8.0v9.8h-8.0zM532.6 901.4h8.0v9.8h-8.0zM492.6 911.2h8.0v9.8h-8.0zM532.6 911.2h8.0v9.8h-8.0zM492.6 921.0h8.0v9.8h-8.0zM532.6 921.0h8.0v9.8h-8.0zM492.6 930.9h8.0v9.8h-8.0zM532.6 930.9h8.0v9.8h-8.0zM500.6 940.7h8.0v9.8h-8.0zM524.6 940.7h8.0v9.8h-8.0zM508.6 950.5h16.0v9.8h-16.0zM459.5 1254.5h8.0v9.8h-8.0zM451.5 1264.3h16.0v9.8h-16.0zM443.5 1274.2h8.0v9.8h-8.0zM459.5 1274.2h8.0v9.8h-8.0zM435.5 1284.0h8.0v9.8h-8.0zM459.5 1284.0h8.0v9.8h-8.0zM427.5 1293.8h8.0v9.8h-8.0zM459.5 1293.8h8.0v9.8h-8.0zM419.5 1303.7h56.0v9.8h-56.0zM459.5 1313.5h8.0v9.8h-8.0zM459.5 1323.3h8.0v9.8h-8.0zM459.5 1333.1h8.0v9.8h-8.0zM507.5 1254.5h16.0v9.8h-16.0zM499.5 1264.3h8.0v9.8h-8.0zM523.5 1264.3h8.0v9.8h-8.0zM491.5 1274.2h8.0v9.8h-8.0zM531.5 1274.2h8.0v9.8h-8.0zM491.5 1284.0h8.0v9.8h-8.0zM531.5 1284.0h8.0v9.8h-8.0zM491.5 1293.8h8.0v9.8h-8.0zM531.5 1293.8h8.0v9.8h-8.0zM491.5 1303.7h8.0v9.8h-8.0zM531.5 1303.7h8.0v9.8h-8.0zM491.5 1313.5h8.0v9.8h-8.0zM531.5 1313.5h8.0v9.8h-8.0zM499.5 1323.3h8.0v9.8h-8.0zM523.5 1323.3h8.0v9.8h-8.0zM507.5 1333.1h16.0v9.8h-16.0zM435.4 1619.5h24.0v9.8h-24.0zM427.4 1629.3h8.0v9.8h-8.0zM459.4 1629.3h8.0v9.8h-8.0zM467.4 1639.2h8.0v9.8h-8.0zM467.4 1649.0h8.0v9.8h-8.0zM459.4 1658.8h8.0v9.8h-8.0zM451.4 1668.7h8.0v9.8h-8.0zM443.4 1678.5h8.0v9.8h-8.0zM427.4 1688.3h16.0v9.8h-16.0zM467.4 1688.3h8.0v9.8h-8.0zM427.4 1698.1h48.0v9.8h-48.0zM507.4 1619.5h16.0v9.8h-16.0zM499.4 1629.3h8.0v9.8h-8.0zM523.4 1629.3h8.0v9.8h-8.0zM491.4 1639.2h8.0v9.8h-8.0zM531.4 1639.2h8.0v9.8h-8.0zM491.4 1649.0h8.0v9.8h-8.0zM531.4 1649.0h8.0v9.8h-8.0zM491.4 1658.8h8.0v9.8h-8.0zM531.4 1658.8h8.0v9.8h-8.0zM491.4 1668.7h8.0v9.8h-8.0zM531.4 1668.7h8.0v9.8h-8.0zM491.4 1678.5h8.0v9.8h-8.0zM531.4 1678.5h8.0v9.8h-8.0zM499.4 1688.3h8.0v9.8h-8.0zM523.4 1688.3h8.0v9.8h-8.0zM507.4 1698.1h16.0v9.8h-16.0zM499.8 1984.5h16.0v9.8h-16.0zM491.8 1994.3h8.0v9.8h-8.0zM515.8 1994.3h8.0v9.8h-8.0zM483.8 2004.2h8.0v9.8h-8.0zM523.8 2004.2h8.0v9.8h-8.0zM483.8 2014.0h8.0v9.8h-8.0zM523.8 2014.0h8.0v9.8h-8.0zM483.8 2023.8h8.0v9.8h-8.0zM523.8 2023.8h8.0v9.8h-8.0zM483.8 2033.7h8.0v9.8h-8.0zM523.8 2033.7h8.0v9.8h-8.0zM483.8 2043.5h8.0v9.8h-8.0zM523.8 2043.5h8.0v9.8h-8.0zM491.8 2053.3h8.0v9.8h-8.0zM515.8 2053.3h8.0v9.8h-8.0zM499.8 2063.1h16.0v9.8h-16.0zM793.9 2182.8h8.0v9.8h-8.0zM777.9 2192.6h24.0v9.8h-24.0zM793.9 2202.5h8.0v9.8h-8.0zM793.9 2212.3h8.0v9.8h-8.0zM793.9 2222.1h8.0v9.8h-8.0zM793.9 2232.0h8.0v9.8h-8.0zM793.9 2241.8h8.0v9.8h-8.0zM793.9 2251.6h8.0v9.8h-8.0zM785.9 2261.4h24.0v9.8h-24.0zM849.9 2182.8h16.0v9.8h-16.0zM841.9 2192.6h8.0v9.8h-8.0zM865.9 2192.6h8.0v9.8h-8.0zM833.9 2202.5h8.0v9.8h-8.0zM873.9 2202.5h8.0v9.8h-8.0zM833.9 2212.3h8.0v9.8h-8.0zM873.9 2212.3h8.0v9.8h-8.0zM833.9 2222.1h8.0v9.8h-8.0zM873.9 2222.1h8.0v9.8h-8.0zM833.9 2232.0h8.0v9.8h-8.0zM873.9 2232.0h8.0v9.8h-8.0zM833.9 2241.8h8.0v9.8h-8.0zM873.9 2241.8h8.0v9.8h-8.0zM841.9 2251.6h8.0v9.8h-8.0zM865.9 2251.6h8.0v9.8h-8.0zM849.9 2261.4h16.0v9.8h-16.0zM913.9 2182.8h16.0v9.8h-16.0zM905.9 2192.6h8.0v9.8h-8.0zM929.9 2192.6h8.0v9.8h-8.0zM897.9 2202.5h8.0v9.8h-8.0zM937.9 2202.5h8.0v9.8h-8.0zM897.9 2212.3h8.0v9.8h-8.0zM937.9 2212.3h8.0v9.8h-8.0zM897.9 2222.1h8.0v9.8h-8.0zM937.9 2222.1h8.0v9.8h-8.0zM897.9 2232.0h8.0v9.8h-8.0zM937.9 2232.0h8.0v9.8h-8.0zM897.9 2241.8h8.0v9.8h-8.0zM937.9 2241.8h8.0v9.8h-8.0zM905.9 2251.6h8.0v9.8h-8.0zM929.9 2251.6h8.0v9.8h-8.0zM913.9 2261.4h16.0v9.8h-16.0zM1467.3 2183.2h32.0v9.8h-32.0zM1459.3 2193.0h8.0v9.8h-8.0zM1499.3 2193.0h8.0v9.8h-8.0zM1491.3 2202.9h8.0v9.8h-8.0zM1483.3 2212.7h8.0v9.8h-8.0zM1475.3 2222.5h24.0v9.8h-24.0zM1499.3 2232.3h8.0v9.8h-8.0zM1499.3 2242.2h8.0v9.8h-8.0zM1491.3 2252.0h8.0v9.8h-8.0zM1459.3 2261.8h32.0v9.8h-32.0zM1539.3 2183.2h16.0v9.8h-16.0zM1531.3 2193.0h8.0v9.8h-8.0zM1555.3 2193.0h8.0v9.8h-8.0zM1523.3 2202.9h8.0v9.8h-8.0zM1563.3 2202.9h8.0v9.8h-8.0zM1523.3 2212.7h8.0v9.8h-8.0zM1563.3 2212.7h8.0v9.8h-8.0zM1523.3 2222.5h8.0v9.8h-8.0zM1563.3 2222.5h8.0v9.8h-8.0zM1523.3 2232.3h8.0v9.8h-8.0zM1563.3 2232.3h8.0v9.8h-8.0zM1523.3 2242.2h8.0v9.8h-8.0zM1563.3 2242.2h8.0v9.8h-8.0zM1531.3 2252.0h8.0v9.8h-8.0zM1555.3 2252.0h8.0v9.8h-8.0zM1539.3 2261.8h16.0v9.8h-16.0zM1603.3 2183.2h16.0v9.8h-16.0zM1595.3 2193.0h8.0v9.8h-8.0zM1619.3 2193.0h8.0v9.8h-8.0zM1587.3 2202.9h8.0v9.8h-8.0zM1627.3 2202.9h8.0v9.8h-8.0zM1587.3 2212.7h8.0v9.8h-8.0zM1627.3 2212.7h8.0v9.8h-8.0zM1587.3 2222.5h8.0v9.8h-8.0zM1627.3 2222.5h8.0v9.8h-8.0zM1587.3 2232.3h8.0v9.8h-8.0zM1627.3 2232.3h8.0v9.8h-8.0zM1587.3 2242.2h8.0v9.8h-8.0zM1627.3 2242.2h8.0v9.8h-8.0zM1595.3 2252.0h8.0v9.8h-8.0zM1619.3 2252.0h8.0v9.8h-8.0zM1603.3 2261.8h16.0v9.8h-16.0zM2182.0 2183.2h32.0v9.8h-32.0zM2174.0 2193.0h8.0v9.8h-8.0zM2166.0 2202.9h32.0v9.8h-32.0zM2198.0 2212.7h8.0v9.8h-8.0zM2206.0 2222.5h8.0v9.8h-8.0zM2206.0 2232.3h8.0v9.8h-8.0zM2206.0 2242.2h8.0v9.8h-8.0zM2198.0 2252.0h8.0v9.8h-8.0zM2166.0 2261.8h32.0v9.8h-32.0zM2246.0 2183.2h16.0v9.8h-16.0zM2238.0 2193.0h8.0v9.8h-8.0zM2262.0 2193.0h8.0v9.8h-8.0zM2230.0 2202.9h8.0v9.8h-8.0zM2270.0 2202.9h8.0v9.8h-8.0zM2230.0 2212.7h8.0v9.8h-8.0zM2270.0 2212.7h8.0v9.8h-8.0zM2230.0 2222.5h8.0v9.8h-8.0zM2270.0 2222.5h8.0v9.8h-8.0zM2230.0 2232.3h8.0v9.8h-8.0zM2270.0 2232.3h8.0v9.8h-8.0zM2230.0 2242.2h8.0v9.8h-8.0zM2270.0 2242.2h8.0v9.8h-8.0zM2238.0 2252.0h8.0v9.8h-8.0zM2262.0 2252.0h8.0v9.8h-8.0zM2246.0 2261.8h16.0v9.8h-16.0zM2310.0 2183.2h16.0v9.8h-16.0zM2302.0 2193.0h8.0v9.8h-8.0zM2326.0 2193.0h8.0v9.8h-8.0zM2294.0 2202.9h8.0v9.8h-8.0zM2334.0 2202.9h8.0v9.8h-8.0zM2294.0 2212.7h8.0v9.8h-8.0zM2334.0 2212.7h8.0v9.8h-8.0zM2294.0 2222.5h8.0v9.8h-8.0zM2334.0 2222.5h8.0v9.8h-8.0zM2294.0 2232.3h8.0v9.8h-8.0zM2334.0 2232.3h8.0v9.8h-8.0zM2294.0 2242.2h8.0v9.8h-8.0zM2334.0 2242.2h8.0v9.8h-8.0zM2302.0 2252.0h8.0v9.8h-8.0zM2326.0 2252.0h8.0v9.8h-8.0zM2310.0 2261.8h16.0v9.8h-16.0zM2864.4 2183.2h48.0v9.8h-48.0zM2856.4 2193.0h8.0v9.8h-8.0zM2904.4 2193.0h8.0v9.8h-8.0zM2904.4 2202.9h8.0v9.8h-8.0zM2896.4 2212.7h8.0v9.8h-8.0zM2896.4 2222.5h8.0v9.8h-8.0zM2888.4 2232.3h8.0v9.8h-8.0zM2888.4 2242.2h8.0v9.8h-8.0zM2880.4 2252.0h8.0v9.8h-8.0zM2880.4 2261.8h8.0v9.8h-8.0zM2944.4 2183.2h16.0v9.8h-16.0zM2936.4 2193.0h8.0v9.8h-8.0zM2960.4 2193.0h8.0v9.8h-8.0zM2928.4 2202.9h8.0v9.8h-8.0zM2968.4 2202.9h8.0v9.8h-8.0zM2928.4 2212.7h8.0v9.8h-8.0zM2968.4 2212.7h8.0v9.8h-8.0zM2928.4 2222.5h8.0v9.8h-8.0zM2968.4 2222.5h8.0v9.8h-8.0zM2928.4 2232.3h8.0v9.8h-8.0zM2968.4 2232.3h8.0v9.8h-8.0zM2928.4 2242.2h8.0v9.8h-8.0zM2968.4 2242.2h8.0v9.8h-8.0zM2936.4 2252.0h8.0v9.8h-8.0zM2960.4 2252.0h8.0v9.8h-8.0zM2944.4 2261.8h16.0v9.8h-16.0zM3008.4 2183.2h16.0v9.8h-16.0zM3000.4 2193.0h8.0v9.8h-8.0zM3024.4 2193.0h8.0v9.8h-8.0zM2992.4 2202.9h8.0v9.8h-8.0zM3032.4 2202.9h8.0v9.8h-8.0zM2992.4 2212.7h8.0v9.8h-8.0zM3032.4 2212.7h8.0v9.8h-8.0zM2992.4 2222.5h8.0v9.8h-8.0zM3032.4 2222.5h8.0v9.8h-8.0zM2992.4 2232.3h8.0v9.8h-8.0zM3032.4 2232.3h8.0v9.8h-8.0zM2992.4 2242.2h8.0v9.8h-8.0zM3032.4 2242.2h8.0v9.8h-8.0zM3000.4 2252.0h8.0v9.8h-8.0zM3024.4 2252.0h8.0v9.8h-8.0zM3008.4 2261.8h16.0v9.8h-16.0zM3579.5 2182.8h24.0v9.8h-24.0zM3579.5 2192.6h8.0v9.8h-8.0zM3603.5 2192.6h8.0v9.8h-8.0zM3571.5 2202.5h8.0v9.8h-8.0zM3611.5 2202.5h8.0v9.8h-8.0zM3571.5 2212.3h8.0v9.8h-8.0zM3611.5 2212.3h8.0v9.8h-8.0zM3579.5 2222.1h8.0v9.8h-8.0zM3603.5 2222.1h16.0v9.8h-16.0zM3587.5 2232.0h16.0v9.8h-16.0zM3611.5 2232.0h8.0v9.8h-8.0zM3603.5 2241.8h8.0v9.8h-8.0zM3587.5 2251.6h16.0v9.8h-16.0zM3571.5 2261.4h16.0v9.8h-16.0zM3651.5 2182.8h16.0v9.8h-16.0zM3643.5 2192.6h8.0v9.8h-8.0zM3667.5 2192.6h8.0v9.8h-8.0zM3635.5 2202.5h8.0v9.8h-8.0zM3675.5 2202.5h8.0v9.8h-8.0zM3635.5 2212.3h8.0v9.8h-8.0zM3675.5 2212.3h8.0v9.8h-8.0zM3635.5 2222.1h8.0v9.8h-8.0zM3675.5 2222.1h8.0v9.8h-8.0zM3635.5 2232.0h8.0v9.8h-8.0zM3675.5 2232.0h8.0v9.8h-8.0zM3635.5 2241.8h8.0v9.8h-8.0zM3675.5 2241.8h8.0v9.8h-8.0zM3643.5 2251.6h8.0v9.8h-8.0zM3667.5 2251.6h8.0v9.8h-8.0zM3651.5 2261.4h16.0v9.8h-16.0zM3715.5 2182.8h16.0v9.8h-16.0zM3707.5 2192.6h8.0v9.8h-8.0zM3731.5 2192.6h8.0v9.8h-8.0zM3699.5 2202.5h8.0v9.8h-8.0zM3739.5 2202.5h8.0v9.8h-8.0zM3699.5 2212.3h8.0v9.8h-8.0zM3739.5 2212.3h8.0v9.8h-8.0zM3699.5 2222.1h8.0v9.8h-8.0zM3739.5 2222.1h8.0v9.8h-8.0zM3699.5 2232.0h8.0v9.8h-8.0zM3739.5 2232.0h8.0v9.8h-8.0zM3699.5 2241.8h8.0v9.8h-8.0zM3739.5 2241.8h8.0v9.8h-8.0zM3707.5 2251.6h8.0v9.8h-8.0zM3731.5 2251.6h8.0v9.8h-8.0zM3715.5 2261.4h16.0v9.8h-16.0zM3960.8 405.1h24.0v9.8h-24.0zM3952.8 414.9h8.0v9.8h-8.0zM3944.8 424.8h8.0v9.8h-8.0zM3936.8 434.6h8.0v9.8h-8.0zM3952.8 434.6h16.0v9.8h-16.0zM3936.8 444.4h16.0v9.8h-16.0zM3968.8 444.4h8.0v9.8h-8.0zM3936.8 454.2h8.0v9.8h-8.0zM3976.8 454.2h8.0v9.8h-8.0zM3936.8 464.1h8.0v9.8h-8.0zM3976.8 464.1h8.0v9.8h-8.0zM3944.8 473.9h8.0v9.8h-8.0zM3968.8 473.9h8.0v9.8h-8.0zM3952.8 483.7h16.0v9.8h-16.0zM4016.8 405.1h16.0v9.8h-16.0zM4008.8 414.9h8.0v9.8h-8.0zM4032.8 414.9h8.0v9.8h-8.0zM4000.8 424.8h8.0v9.8h-8.0zM4040.8 424.8h8.0v9.8h-8.0zM4000.8 434.6h8.0v9.8h-8.0zM4040.8 434.6h8.0v9.8h-8.0zM4000.8 444.4h8.0v9.8h-8.0zM4040.8 444.4h8.0v9.8h-8.0zM4000.8 454.2h8.0v9.8h-8.0zM4040.8 454.2h8.0v9.8h-8.0zM4000.8 464.1h8.0v9.8h-8.0zM4040.8 464.1h8.0v9.8h-8.0zM4008.8 473.9h8.0v9.8h-8.0zM4032.8 473.9h8.0v9.8h-8.0zM4016.8 483.7h16.0v9.8h-16.0zM3936.2 929.1h24.0v9.8h-24.0zM3928.2 938.9h8.0v9.8h-8.0zM3960.2 938.9h8.0v9.8h-8.0zM3968.2 948.8h8.0v9.8h-8.0zM3968.2 958.6h8.0v9.8h-8.0zM3960.2 968.4h8.0v9.8h-8.0zM3952.2 978.2h8.0v9.8h-8.0zM3944.2 988.1h8.0v9.8h-8.0zM3928.2 997.9h16.0v9.8h-16.0zM3968.2 997.9h8.0v9.8h-8.0zM3928.2 1007.7h48.0v9.8h-48.0zM4008.2 929.1h16.0v9.8h-16.0zM4000.2 938.9h8.0v9.8h-8.0zM4024.2 938.9h8.0v9.8h-8.0zM3992.2 948.8h8.0v9.8h-8.0zM4032.2 948.8h8.0v9.8h-8.0zM3992.2 958.6h8.0v9.8h-8.0zM4032.2 958.6h8.0v9.8h-8.0zM3992.2 968.4h8.0v9.8h-8.0zM4032.2 968.4h8.0v9.8h-8.0zM3992.2 978.2h8.0v9.8h-8.0zM4032.2 978.2h8.0v9.8h-8.0zM3992.2 988.1h8.0v9.8h-8.0zM4032.2 988.1h8.0v9.8h-8.0zM4000.2 997.9h8.0v9.8h-8.0zM4024.2 997.9h8.0v9.8h-8.0zM4008.2 1007.7h16.0v9.8h-16.0zM3913.7 1492.8h32.0v9.8h-32.0zM3968.9 1438.7h24.0v9.8h-24.0zM3960.9 1448.5h8.0v9.8h-8.0zM3992.9 1448.5h8.0v9.8h-8.0zM4000.9 1458.4h8.0v9.8h-8.0zM4000.9 1468.2h8.0v9.8h-8.0zM3992.9 1478.0h8.0v9.8h-8.0zM3984.9 1487.9h8.0v9.8h-8.0zM3976.9 1497.7h8.0v9.8h-8.0zM3960.9 1507.5h16.0v9.8h-16.0zM4000.9 1507.5h8.0v9.8h-8.0zM3960.9 1517.3h48.0v9.8h-48.0zM4040.9 1438.7h16.0v9.8h-16.0zM4032.9 1448.5h8.0v9.8h-8.0zM4056.9 1448.5h8.0v9.8h-8.0zM4024.9 1458.4h8.0v9.8h-8.0zM4064.9 1458.4h8.0v9.8h-8.0zM4024.9 1468.2h8.0v9.8h-8.0zM4064.9 1468.2h8.0v9.8h-8.0zM4024.9 1478.0h8.0v9.8h-8.0zM4064.9 1478.0h8.0v9.8h-8.0zM4024.9 1487.9h8.0v9.8h-8.0zM4064.9 1487.9h8.0v9.8h-8.0zM4024.9 1497.7h8.0v9.8h-8.0zM4064.9 1497.7h8.0v9.8h-8.0zM4032.9 1507.5h8.0v9.8h-8.0zM4056.9 1507.5h8.0v9.8h-8.0zM4040.9 1517.3h16.0v9.8h-16.0zM3913.1 2015.1h32.0v9.8h-32.0zM3984.9 1961.0h24.0v9.8h-24.0zM3976.9 1970.8h8.0v9.8h-8.0zM3968.9 1980.7h8.0v9.8h-8.0zM3960.9 1990.5h8.0v9.8h-8.0zM3976.9 1990.5h16.0v9.8h-16.0zM3960.9 2000.3h16.0v9.8h-16.0zM3992.9 2000.3h8.0v9.8h-8.0zM3960.9 2010.2h8.0v9.8h-8.0zM4000.9 2010.2h8.0v9.8h-8.0zM3960.9 2020.0h8.0v9.8h-8.0zM4000.9 2020.0h8.0v9.8h-8.0zM3968.9 2029.8h8.0v9.8h-8.0zM3992.9 2029.8h8.0v9.8h-8.0zM3976.9 2039.6h16.0v9.8h-16.0zM4040.9 1961.0h16.0v9.8h-16.0zM4032.9 1970.8h8.0v9.8h-8.0zM4056.9 1970.8h8.0v9.8h-8.0zM4024.9 1980.7h8.0v9.8h-8.0zM4064.9 1980.7h8.0v9.8h-8.0zM4024.9 1990.5h8.0v9.8h-8.0zM4064.9 1990.5h8.0v9.8h-8.0zM4024.9 2000.3h8.0v9.8h-8.0zM4064.9 2000.3h8.0v9.8h-8.0zM4024.9 2010.2h8.0v9.8h-8.0zM4064.9 2010.2h8.0v9.8h-8.0zM4024.9 2020.0h8.0v9.8h-8.0zM4064.9 2020.0h8.0v9.8h-8.0zM4032.9 2029.8h8.0v9.8h-8.0zM4056.9 2029.8h8.0v9.8h-8.0zM4040.9 2039.6h16.0v9.8h-16.0zM888.8 134.2h8.0v9.8h-8.0zM880.8 144.0h16.0v9.8h-16.0zM872.8 153.9h8.0v9.8h-8.0zM888.8 153.9h8.0v9.8h-8.0zM864.8 163.7h8.0v9.8h-8.0zM888.8 163.7h8.0v9.8h-8.0zM856.8 173.5h8.0v9.8h-8.0zM888.8 173.5h8.0v9.8h-8.0zM848.8 183.3h56.0v9.8h-56.0zM888.8 193.2h8.0v9.8h-8.0zM888.8 203.0h8.0v9.8h-8.0zM888.8 212.8h8.0v9.8h-8.0zM928.8 134.2h32.0v9.8h-32.0zM920.8 144.0h8.0v9.8h-8.0zM960.8 144.0h8.0v9.8h-8.0zM952.8 153.9h8.0v9.8h-8.0zM944.8 163.7h8.0v9.8h-8.0zM936.8 173.5h24.0v9.8h-24.0zM960.8 183.3h8.0v9.8h-8.0zM960.8 193.2h8.0v9.8h-8.0zM952.8 203.0h8.0v9.8h-8.0zM920.8 212.8h32.0v9.8h-32.0zM984.8 212.8h8.0v9.8h-8.0zM1024.8 134.2h32.0v9.8h-32.0zM1016.8 144.0h8.0v9.8h-8.0zM1056.8 144.0h8.0v9.8h-8.0zM1016.8 153.9h8.0v9.8h-8.0zM1056.8 153.9h8.0v9.8h-8.0zM1024.8 163.7h8.0v9.8h-8.0zM1048.8 163.7h8.0v9.8h-8.0zM1032.8 173.5h16.0v9.8h-16.0zM1024.8 183.3h8.0v9.8h-8.0zM1048.8 183.3h8.0v9.8h-8.0zM1016.8 193.2h8.0v9.8h-8.0zM1056.8 193.2h8.0v9.8h-8.0zM1016.8 203.0h8.0v9.8h-8.0zM1056.8 203.0h8.0v9.8h-8.0zM1024.8 212.8h32.0v9.8h-32.0zM1166.6 134.2h32.0v9.8h-32.0zM1206.6 134.2h8.0v9.8h-8.0zM1158.6 144.0h8.0v9.8h-8.0zM1198.6 144.0h16.0v9.8h-16.0zM1150.6 153.9h8.0v9.8h-8.0zM1206.6 153.9h8.0v9.8h-8.0zM1142.6 163.7h8.0v9.8h-8.0zM1142.6 173.5h8.0v9.8h-8.0zM1142.6 183.3h8.0v9.8h-8.0zM1150.6 193.2h8.0v9.8h-8.0zM1206.6 193.2h8.0v9.8h-8.0zM1158.6 203.0h8.0v9.8h-8.0zM1198.6 203.0h8.0v9.8h-8.0zM1166.6 212.8h32.0v9.8h-32.0zM1111.7 110.6h24.0v9.8h-24.0zM1103.7 120.4h8.0v9.8h-8.0zM1135.7 120.4h8.0v9.8h-8.0zM1103.7 130.3h8.0v9.8h-8.0zM1135.7 130.3h8.0v9.8h-8.0zM1111.7 140.1h24.0v9.8h-24.0zM864.9 285.6h24.0v9.8h-24.0zM864.9 295.4h8.0v9.8h-8.0zM888.9 295.4h8.0v9.8h-8.0zM856.9 305.3h8.0v9.8h-8.0zM896.9 305.3h8.0v9.8h-8.0zM856.9 315.1h8.0v9.8h-8.0zM896.9 315.1h8.0v9.8h-8.0zM864.9 324.9h8.0v9.8h-8.0zM888.9 324.9h16.0v9.8h-16.0zM872.9 334.8h16.0v9.8h-16.0zM896.9 334.8h8.0v9.8h-8.0zM888.9 344.6h8.0v9.8h-8.0zM872.9 354.4h16.0v9.8h-16.0zM856.9 364.2h16.0v9.8h-16.0zM944.9 285.6h24.0v9.8h-24.0zM936.9 295.4h8.0v9.8h-8.0zM928.9 305.3h8.0v9.8h-8.0zM920.9 315.1h8.0v9.8h-8.0zM936.9 315.1h16.0v9.8h-16.0zM920.9 324.9h16.0v9.8h-16.0zM952.9 324.9h8.0v9.8h-8.0zM920.9 334.8h8.0v9.8h-8.0zM960.9 334.8h8.0v9.8h-8.0zM920.9 344.6h8.0v9.8h-8.0zM960.9 344.6h8.0v9.8h-8.0zM928.9 354.4h8.0v9.8h-8.0zM952.9 354.4h8.0v9.8h-8.0zM936.9 364.2h16.0v9.8h-16.0zM984.9 364.2h8.0v9.8h-8.0zM1024.9 285.6h32.0v9.8h-32.0zM1016.9 295.4h8.0v9.8h-8.0zM1056.9 295.4h8.0v9.8h-8.0zM1016.9 305.3h8.0v9.8h-8.0zM1056.9 305.3h8.0v9.8h-8.0zM1024.9 315.1h8.0v9.8h-8.0zM1048.9 315.1h8.0v9.8h-8.0zM1032.9 324.9h16.0v9.8h-16.0zM1024.9 334.8h8.0v9.8h-8.0zM1048.9 334.8h8.0v9.8h-8.0zM1016.9 344.6h8.0v9.8h-8.0zM1056.9 344.6h8.0v9.8h-8.0zM1016.9 354.4h8.0v9.8h-8.0zM1056.9 354.4h8.0v9.8h-8.0zM1024.9 364.2h32.0v9.8h-32.0zM1080.9 285.6h16.0v9.8h-16.0zM1144.9 285.6h8.0v9.8h-8.0zM1072.9 295.4h8.0v9.8h-8.0zM1096.9 295.4h8.0v9.8h-8.0zM1136.9 295.4h8.0v9.8h-8.0zM1072.9 305.3h8.0v9.8h-8.0zM1096.9 305.3h8.0v9.8h-8.0zM1136.9 305.3h8.0v9.8h-8.0zM1072.9 315.1h8.0v9.8h-8.0zM1096.9 315.1h8.0v9.8h-8.0zM1128.9 315.1h8.0v9.8h-8.0zM1080.9 324.9h16.0v9.8h-16.0zM1120.9 324.9h8.0v9.8h-8.0zM1144.9 324.9h16.0v9.8h-16.0zM1112.9 334.8h8.0v9.8h-8.0zM1136.9 334.8h8.0v9.8h-8.0zM1160.9 334.8h8.0v9.8h-8.0zM1104.9 344.6h8.0v9.8h-8.0zM1136.9 344.6h8.0v9.8h-8.0zM1160.9 344.6h8.0v9.8h-8.0zM1096.9 354.4h8.0v9.8h-8.0zM1136.9 354.4h8.0v9.8h-8.0zM1160.9 354.4h8.0v9.8h-8.0zM1088.9 364.2h8.0v9.8h-8.0zM1144.9 364.2h16.0v9.8h-16.0zM1276.8 467.6h8.0v9.8h-8.0zM1260.8 477.4h24.0v9.8h-24.0zM1276.8 487.3h8.0v9.8h-8.0zM1276.8 497.1h8.0v9.8h-8.0zM1276.8 506.9h8.0v9.8h-8.0zM1276.8 516.8h8.0v9.8h-8.0zM1276.8 526.6h8.0v9.8h-8.0zM1276.8 536.4h8.0v9.8h-8.0zM1268.8 546.2h24.0v9.8h-24.0zM1324.8 467.6h32.0v9.8h-32.0zM1316.8 477.4h8.0v9.8h-8.0zM1356.8 477.4h8.0v9.8h-8.0zM1316.8 487.3h8.0v9.8h-8.0zM1356.8 487.3h8.0v9.8h-8.0zM1324.8 497.1h8.0v9.8h-8.0zM1348.8 497.1h8.0v9.8h-8.0zM1332.8 506.9h16.0v9.8h-16.0zM1324.8 516.8h8.0v9.8h-8.0zM1348.8 516.8h8.0v9.8h-8.0zM1316.8 526.6h8.0v9.8h-8.0zM1356.8 526.6h8.0v9.8h-8.0zM1316.8 536.4h8.0v9.8h-8.0zM1356.8 536.4h8.0v9.8h-8.0zM1324.8 546.2h32.0v9.8h-32.0zM1396.8 467.6h16.0v9.8h-16.0zM1388.8 477.4h8.0v9.8h-8.0zM1412.8 477.4h8.0v9.8h-8.0zM1380.8 487.3h8.0v9.8h-8.0zM1420.8 487.3h8.0v9.8h-8.0zM1380.8 497.1h8.0v9.8h-8.0zM1420.8 497.1h8.0v9.8h-8.0zM1380.8 506.9h8.0v9.8h-8.0zM1420.8 506.9h8.0v9.8h-8.0zM1380.8 516.8h8.0v9.8h-8.0zM1420.8 516.8h8.0v9.8h-8.0zM1380.8 526.6h8.0v9.8h-8.0zM1420.8 526.6h8.0v9.8h-8.0zM1388.8 536.4h8.0v9.8h-8.0zM1412.8 536.4h8.0v9.8h-8.0zM1396.8 546.2h16.0v9.8h-16.0zM1444.8 546.2h8.0v9.8h-8.0zM1500.8 467.6h24.0v9.8h-24.0zM1492.8 477.4h8.0v9.8h-8.0zM1484.8 487.3h8.0v9.8h-8.0zM1476.8 497.1h8.0v9.8h-8.0zM1492.8 497.1h16.0v9.8h-16.0zM1476.8 506.9h16.0v9.8h-16.0zM1508.8 506.9h8.0v9.8h-8.0zM1476.8 516.8h8.0v9.8h-8.0zM1516.8 516.8h8.0v9.8h-8.0zM1476.8 526.6h8.0v9.8h-8.0zM1516.8 526.6h8.0v9.8h-8.0zM1484.8 536.4h8.0v9.8h-8.0zM1508.8 536.4h8.0v9.8h-8.0zM1492.8 546.2h16.0v9.8h-16.0zM1627.3 467.6h32.0v9.8h-32.0zM1667.3 467.6h8.0v9.8h-8.0zM1619.3 477.4h8.0v9.8h-8.0zM1659.3 477.4h16.0v9.8h-16.0zM1611.3 487.3h8.0v9.8h-8.0zM1667.3 487.3h8.0v9.8h-8.0zM1603.3 497.1h8.0v9.8h-8.0zM1603.3 506.9h8.0v9.8h-8.0zM1603.3 516.8h8.0v9.8h-8.0zM1611.3 526.6h8.0v9.8h-8.0zM1667.3 526.6h8.0v9.8h-8.0zM1619.3 536.4h8.0v9.8h-8.0zM1659.3 536.4h8.0v9.8h-8.0zM1627.3 546.2h32.0v9.8h-32.0zM1579.9 444.0h24.0v9.8h-24.0zM1571.9 453.8h8.0v9.8h-8.0zM1603.9 453.8h8.0v9.8h-8.0zM1571.9 463.7h8.0v9.8h-8.0zM1603.9 463.7h8.0v9.8h-8.0zM1579.9 473.5h24.0v9.8h-24.0zM1253.9 618.2h48.0v9.8h-48.0zM1245.9 628.0h8.0v9.8h-8.0zM1293.9 628.0h8.0v9.8h-8.0zM1293.9 637.9h8.0v9.8h-8.0zM1285.9 647.7h8.0v9.8h-8.0zM1285.9 657.5h8.0v9.8h-8.0zM1277.9 667.4h8.0v9.8h-8.0zM1277.9 677.2h8.0v9.8h-8.0zM1269.9 687.0h8.0v9.8h-8.0zM1269.9 696.8h8.0v9.8h-8.0zM1325.9 618.2h32.0v9.8h-32.0zM1317.9 628.0h8.0v9.8h-8.0zM1357.9 628.0h8.0v9.8h-8.0zM1349.9 637.9h8.0v9.8h-8.0zM1341.9 647.7h8.0v9.8h-8.0zM1333.9 657.5h24.0v9.8h-24.0zM1357.9 667.4h8.0v9.8h-8.0zM1357.9 677.2h8.0v9.8h-8.0zM1349.9 687.0h8.0v9.8h-8.0zM1317.9 696.8h32.0v9.8h-32.0zM1381.9 696.8h8.0v9.8h-8.0zM1437.9 618.2h24.0v9.8h-24.0zM1429.9 628.0h8.0v9.8h-8.0zM1421.9 637.9h8.0v9.8h-8.0zM1413.9 647.7h8.0v9.8h-8.0zM1429.9 647.7h16.0v9.8h-16.0zM1413.9 657.5h16.0v9.8h-16.0zM1445.9 657.5h8.0v9.8h-8.0zM1413.9 667.4h8.0v9.8h-8.0zM1453.9 667.4h8.0v9.8h-8.0zM1413.9 677.2h8.0v9.8h-8.0zM1453.9 677.2h8.0v9.8h-8.0zM1421.9 687.0h8.0v9.8h-8.0zM1445.9 687.0h8.0v9.8h-8.0zM1429.9 696.8h16.0v9.8h-16.0zM1477.9 618.2h16.0v9.8h-16.0zM1541.9 618.2h8.0v9.8h-8.0zM1469.9 628.0h8.0v9.8h-8.0zM1493.9 628.0h8.0v9.8h-8.0zM1533.9 628.0h8.0v9.8h-8.0zM1469.9 637.9h8.0v9.8h-8.0zM1493.9 637.9h8.0v9.8h-8.0zM1533.9 637.9h8.0v9.8h-8.0zM1469.9 647.7h8.0v9.8h-8.0zM1493.9 647.7h8.0v9.8h-8.0zM1525.9 647.7h8.0v9.8h-8.0zM1477.9 657.5h16.0v9.8h-16.0zM1517.9 657.5h8.0v9.8h-8.0zM1541.9 657.5h16.0v9.8h-16.0zM1509.9 667.4h8.0v9.8h-8.0zM1533.9 667.4h8.0v9.8h-8.0zM1557.9 667.4h8.0v9.8h-8.0zM1501.9 677.2h8.0v9.8h-8.0zM1533.9 677.2h8.0v9.8h-8.0zM1557.9 677.2h8.0v9.8h-8.0zM1493.9 687.0h8.0v9.8h-8.0zM1533.9 687.0h8.0v9.8h-8.0zM1557.9 687.0h8.0v9.8h-8.0zM1485.9 696.8h8.0v9.8h-8.0zM1541.9 696.8h16.0v9.8h-16.0zM1301.7 1833.5h32.0v9.8h-32.0zM1293.7 1843.3h8.0v9.8h-8.0zM1333.7 1843.3h8.0v9.8h-8.0zM1325.7 1853.2h8.0v9.8h-8.0zM1317.7 1863.0h8.0v9.8h-8.0zM1309.7 1872.8h24.0v9.8h-24.0zM1333.7 1882.7h8.0v9.8h-8.0zM1333.7 1892.5h8.0v9.8h-8.0zM1325.7 1902.3h8.0v9.8h-8.0zM1293.7 1912.1h32.0v9.8h-32.0zM1373.7 1833.5h32.0v9.8h-32.0zM1365.7 1843.3h8.0v9.8h-8.0zM1357.7 1853.2h32.0v9.8h-32.0zM1389.7 1863.0h8.0v9.8h-8.0zM1397.7 1872.8h8.0v9.8h-8.0zM1397.7 1882.7h8.0v9.8h-8.0zM1397.7 1892.5h8.0v9.8h-8.0zM1389.7 1902.3h8.0v9.8h-8.0zM1357.7 1912.1h32.0v9.8h-32.0zM1453.7 1833.5h8.0v9.8h-8.0zM1445.7 1843.3h16.0v9.8h-16.0zM1437.7 1853.2h8.0v9.8h-8.0zM1453.7 1853.2h8.0v9.8h-8.0zM1429.7 1863.0h8.0v9.8h-8.0zM1453.7 1863.0h8.0v9.8h-8.0zM1421.7 1872.8h8.0v9.8h-8.0zM1453.7 1872.8h8.0v9.8h-8.0zM1413.7 1882.7h56.0v9.8h-56.0zM1453.7 1892.5h8.0v9.8h-8.0zM1453.7 1902.3h8.0v9.8h-8.0zM1453.7 1912.1h8.0v9.8h-8.0zM1485.7 1912.1h8.0v9.8h-8.0zM1525.7 1833.5h24.0v9.8h-24.0zM1517.7 1843.3h8.0v9.8h-8.0zM1549.7 1843.3h8.0v9.8h-8.0zM1557.7 1853.2h8.0v9.8h-8.0zM1557.7 1863.0h8.0v9.8h-8.0zM1549.7 1872.8h8.0v9.8h-8.0zM1541.7 1882.7h8.0v9.8h-8.0zM1533.7 1892.5h8.0v9.8h-8.0zM1517.7 1902.3h16.0v9.8h-16.0zM1557.7 1902.3h8.0v9.8h-8.0zM1517.7 1912.1h48.0v9.8h-48.0zM1665.9 1833.5h32.0v9.8h-32.0zM1705.9 1833.5h8.0v9.8h-8.0zM1657.9 1843.3h8.0v9.8h-8.0zM1697.9 1843.3h16.0v9.8h-16.0zM1649.9 1853.2h8.0v9.8h-8.0zM1705.9 1853.2h8.0v9.8h-8.0zM1641.9 1863.0h8.0v9.8h-8.0zM1641.9 1872.8h8.0v9.8h-8.0zM1641.9 1882.7h8.0v9.8h-8.0zM1649.9 1892.5h8.0v9.8h-8.0zM1705.9 1892.5h8.0v9.8h-8.0zM1657.9 1902.3h8.0v9.8h-8.0zM1697.9 1902.3h8.0v9.8h-8.0zM1665.9 1912.1h32.0v9.8h-32.0zM1610.1 1794.5h24.0v9.8h-24.0zM1602.1 1804.3h8.0v9.8h-8.0zM1634.1 1804.3h8.0v9.8h-8.0zM1602.1 1814.2h8.0v9.8h-8.0zM1634.1 1814.2h8.0v9.8h-8.0zM1610.1 1824.0h24.0v9.8h-24.0zM1301.5 1984.0h24.0v9.8h-24.0zM1301.5 1993.8h8.0v9.8h-8.0zM1325.5 1993.8h8.0v9.8h-8.0zM1293.5 2003.7h8.0v9.8h-8.0zM1333.5 2003.7h8.0v9.8h-8.0zM1293.5 2013.5h8.0v9.8h-8.0zM1333.5 2013.5h8.0v9.8h-8.0zM1301.5 2023.3h8.0v9.8h-8.0zM1325.5 2023.3h16.0v9.8h-16.0zM1309.5 2033.2h16.0v9.8h-16.0zM1333.5 2033.2h8.0v9.8h-8.0zM1325.5 2043.0h8.0v9.8h-8.0zM1309.5 2052.8h16.0v9.8h-16.0zM1293.5 2062.6h16.0v9.8h-16.0zM1357.5 2062.6h8.0v9.8h-8.0zM1397.5 1984.0h32.0v9.8h-32.0zM1389.5 1993.8h8.0v9.8h-8.0zM1429.5 1993.8h8.0v9.8h-8.0zM1389.5 2003.7h8.0v9.8h-8.0zM1429.5 2003.7h8.0v9.8h-8.0zM1397.5 2013.5h8.0v9.8h-8.0zM1421.5 2013.5h8.0v9.8h-8.0zM1405.5 2023.3h16.0v9.8h-16.0zM1397.5 2033.2h8.0v9.8h-8.0zM1421.5 2033.2h8.0v9.8h-8.0zM1389.5 2043.0h8.0v9.8h-8.0zM1429.5 2043.0h8.0v9.8h-8.0zM1389.5 2052.8h8.0v9.8h-8.0zM1429.5 2052.8h8.0v9.8h-8.0zM1397.5 2062.6h32.0v9.8h-32.0zM1453.5 1984.0h16.0v9.8h-16.0zM1517.5 1984.0h8.0v9.8h-8.0zM1445.5 1993.8h8.0v9.8h-8.0zM1469.5 1993.8h8.0v9.8h-8.0zM1509.5 1993.8h8.0v9.8h-8.0zM1445.5 2003.7h8.0v9.8h-8.0zM1469.5 2003.7h8.0v9.8h-8.0zM1509.5 2003.7h8.0v9.8h-8.0zM1445.5 2013.5h8.0v9.8h-8.0zM1469.5 2013.5h8.0v9.8h-8.0zM1501.5 2013.5h8.0v9.8h-8.0zM1453.5 2023.3h16.0v9.8h-16.0zM1493.5 2023.3h8.0v9.8h-8.0zM1517.5 2023.3h16.0v9.8h-16.0zM1485.5 2033.2h8.0v9.8h-8.0zM1509.5 2033.2h8.0v9.8h-8.0zM1533.5 2033.2h8.0v9.8h-8.0zM1477.5 2043.0h8.0v9.8h-8.0zM1509.5 2043.0h8.0v9.8h-8.0zM1533.5 2043.0h8.0v9.8h-8.0zM1469.5 2052.8h8.0v9.8h-8.0zM1509.5 2052.8h8.0v9.8h-8.0zM1533.5 2052.8h8.0v9.8h-8.0zM1461.5 2062.6h8.0v9.8h-8.0zM1517.5 2062.6h16.0v9.8h-16.0zM2197.9 1778.5h8.0v9.8h-8.0zM2189.9 1788.3h16.0v9.8h-16.0zM2181.9 1798.2h8.0v9.8h-8.0zM2197.9 1798.2h8.0v9.8h-8.0zM2173.9 1808.0h8.0v9.8h-8.0zM2197.9 1808.0h8.0v9.8h-8.0zM2165.9 1817.8h8.0v9.8h-8.0zM2197.9 1817.8h8.0v9.8h-8.0zM2157.9 1827.7h56.0v9.8h-56.0zM2197.9 1837.5h8.0v9.8h-8.0zM2197.9 1847.3h8.0v9.8h-8.0zM2197.9 1857.1h8.0v9.8h-8.0zM2229.9 1778.5h48.0v9.8h-48.0zM2221.9 1788.3h8.0v9.8h-8.0zM2269.9 1788.3h8.0v9.8h-8.0zM2269.9 1798.2h8.0v9.8h-8.0zM2261.9 1808.0h8.0v9.8h-8.0zM2261.9 1817.8h8.0v9.8h-8.0zM2253.9 1827.7h8.0v9.8h-8.0zM2253.9 1837.5h8.0v9.8h-8.0zM2245.9 1847.3h8.0v9.8h-8.0zM2245.9 1857.1h8.0v9.8h-8.0zM2301.9 1778.5h24.0v9.8h-24.0zM2293.9 1788.3h8.0v9.8h-8.0zM2325.9 1788.3h8.0v9.8h-8.0zM2333.9 1798.2h8.0v9.8h-8.0zM2333.9 1808.0h8.0v9.8h-8.0zM2325.9 1817.8h8.0v9.8h-8.0zM2317.9 1827.7h8.0v9.8h-8.0zM2309.9 1837.5h8.0v9.8h-8.0zM2293.9 1847.3h16.0v9.8h-16.0zM2333.9 1847.3h8.0v9.8h-8.0zM2293.9 1857.1h48.0v9.8h-48.0zM2357.9 1857.1h8.0v9.8h-8.0zM2421.9 1778.5h8.0v9.8h-8.0zM2413.9 1788.3h16.0v9.8h-16.0zM2405.9 1798.2h8.0v9.8h-8.0zM2421.9 1798.2h8.0v9.8h-8.0zM2397.9 1808.0h8.0v9.8h-8.0zM2421.9 1808.0h8.0v9.8h-8.0zM2389.9 1817.8h8.0v9.8h-8.0zM2421.9 1817.8h8.0v9.8h-8.0zM2381.9 1827.7h56.0v9.8h-56.0zM2421.9 1837.5h8.0v9.8h-8.0zM2421.9 1847.3h8.0v9.8h-8.0zM2421.9 1857.1h8.0v9.8h-8.0zM2540.6 1778.5h32.0v9.8h-32.0zM2580.6 1778.5h8.0v9.8h-8.0zM2532.6 1788.3h8.0v9.8h-8.0zM2572.6 1788.3h16.0v9.8h-16.0zM2524.6 1798.2h8.0v9.8h-8.0zM2580.6 1798.2h8.0v9.8h-8.0zM2516.6 1808.0h8.0v9.8h-8.0zM2516.6 1817.8h8.0v9.8h-8.0zM2516.6 1827.7h8.0v9.8h-8.0zM2524.6 1837.5h8.0v9.8h-8.0zM2580.6 1837.5h8.0v9.8h-8.0zM2532.6 1847.3h8.0v9.8h-8.0zM2572.6 1847.3h8.0v9.8h-8.0zM2540.6 1857.1h32.0v9.8h-32.0zM2483.9 1754.0h24.0v9.8h-24.0zM2475.9 1763.8h8.0v9.8h-8.0zM2507.9 1763.8h8.0v9.8h-8.0zM2475.9 1773.7h8.0v9.8h-8.0zM2507.9 1773.7h8.0v9.8h-8.0zM2483.9 1783.5h24.0v9.8h-24.0zM2182.3 1930.1h16.0v9.8h-16.0zM2174.3 1939.9h8.0v9.8h-8.0zM2198.3 1939.9h8.0v9.8h-8.0zM2166.3 1949.8h8.0v9.8h-8.0zM2206.3 1949.8h8.0v9.8h-8.0zM2166.3 1959.6h8.0v9.8h-8.0zM2206.3 1959.6h8.0v9.8h-8.0zM2166.3 1969.4h8.0v9.8h-8.0zM2206.3 1969.4h8.0v9.8h-8.0zM2166.3 1979.2h8.0v9.8h-8.0zM2206.3 1979.2h8.0v9.8h-8.0zM2166.3 1989.1h8.0v9.8h-8.0zM2206.3 1989.1h8.0v9.8h-8.0zM2174.3 1998.9h8.0v9.8h-8.0zM2198.3 1998.9h8.0v9.8h-8.0zM2182.3 2008.7h16.0v9.8h-16.0zM2230.3 1930.1h16.0v9.8h-16.0zM2294.3 1930.1h8.0v9.8h-8.0zM2222.3 1939.9h8.0v9.8h-8.0zM2246.3 1939.9h8.0v9.8h-8.0zM2286.3 1939.9h8.0v9.8h-8.0zM2222.3 1949.8h8.0v9.8h-8.0zM2246.3 1949.8h8.0v9.8h-8.0zM2286.3 1949.8h8.0v9.8h-8.0zM2222.3 1959.6h8.0v9.8h-8.0zM2246.3 1959.6h8.0v9.8h-8.0zM2278.3 1959.6h8.0v9.8h-8.0zM2230.3 1969.4h16.0v9.8h-16.0zM2270.3 1969.4h8.0v9.8h-8.0zM2294.3 1969.4h16.0v9.8h-16.0zM2262.3 1979.2h8.0v9.8h-8.0zM2286.3 1979.2h8.0v9.8h-8.0zM2310.3 1979.2h8.0v9.8h-8.0zM2254.3 1989.1h8.0v9.8h-8.0zM2286.3 1989.1h8.0v9.8h-8.0zM2310.3 1989.1h8.0v9.8h-8.0zM2246.3 1998.9h8.0v9.8h-8.0zM2286.3 1998.9h8.0v9.8h-8.0zM2310.3 1998.9h8.0v9.8h-8.0zM2238.3 2008.7h8.0v9.8h-8.0zM2294.3 2008.7h16.0v9.8h-16.0z" fill="#000000" stroke="#000000" stroke-width="2.5" stroke-linejoin="miter" filter="url(#bl)"/>
<g filter="url(#bl3)"><text transform="translate(1591.1 2548.5) scale(0.9814 1)" style="font-family:'Liberation Serif',serif;font-size:197.0px;stroke:#fff;stroke-width:0.8px">T</text><text transform="translate(1690.4 2548.5) scale(0.9834 1)" style="font-family:'Liberation Serif',serif;font-size:197.0px;stroke:#fff;stroke-width:0.8px">e</text><text transform="translate(1775.2 2548.5) scale(0.9081 1)" style="font-family:'Liberation Serif',serif;font-size:197.0px;stroke:#fff;stroke-width:0.8px">m</text><text transform="translate(1917.8 2548.5) scale(0.9814 1)" style="font-family:'Liberation Serif',serif;font-size:197.0px;stroke:#fff;stroke-width:0.8px">p</text><text transform="translate(2015.3 2548.5) scale(1.0012 1)" style="font-family:'Liberation Serif',serif;font-size:197.0px;stroke:#fff;stroke-width:0.8px">e</text><text transform="translate(2099.8 2548.5) scale(1.0346 1)" style="font-family:'Liberation Serif',serif;font-size:197.0px;stroke:#fff;stroke-width:0.8px">r</text><text transform="translate(2169.1 2548.5) scale(0.7967 1)" style="font-family:'Liberation Serif',serif;font-size:197.0px;stroke:#fff;stroke-width:0.8px">a</text><text transform="translate(2252.5 2548.5) scale(1.0783 1)" style="font-family:'Liberation Serif',serif;font-size:197.0px;stroke:#fff;stroke-width:0.8px">t</text><text transform="translate(2322.8 2548.5) scale(0.8029 1)" style="font-family:'Liberation Serif',serif;font-size:197.0px;stroke:#fff;stroke-width:0.8px">u</text><text transform="translate(2401.7 2548.5) scale(1.0396 1)" style="font-family:'Liberation Serif',serif;font-size:197.0px;stroke:#fff;stroke-width:0.8px">r</text><text transform="translate(2468.3 2548.5) scale(1.0012 1)" style="font-family:'Liberation Serif',serif;font-size:197.0px;stroke:#fff;stroke-width:0.8px">e</text><text transform="translate(2603.4 2548.5) scale(1.0177 1)" style="font-family:'Liberation Serif',serif;font-size:197.0px;stroke:#fff;stroke-width:0.8px">/</text><text transform="translate(2753.2 2548.5) scale(0.9907 1)" style="font-family:'Liberation Serif',serif;font-size:197.0px;stroke:#fff;stroke-width:0.8px">C</text><ellipse cx="2730.7" cy="2417.8" rx="20.5" ry="23.5" fill="none" stroke="#000" stroke-width="9"/><g transform="translate(264 1412.3) rotate(-90)"><text transform="translate(-3.7 0.0) scale(1.0484 1)" style="font-family:'Liberation Serif',serif;font-size:197.0px;stroke:#fff;stroke-width:0.8px">T</text><text transform="translate(115.0 0.0) scale(1.0107 1)" style="font-family:'Liberation Serif',serif;font-size:197.0px;stroke:#fff;stroke-width:0.8px">G</text><text transform="translate(298.7 0.0) scale(0.9994 1)" style="font-family:'Liberation Serif',serif;font-size:197.0px;stroke:#fff;stroke-width:0.8px">/</text><text transform="translate(397.6 0.0) scale(0.9918 1)" style="font-family:'Liberation Serif',serif;font-size:197.0px;stroke:#fff;stroke-width:0.8px">%</text></g><g transform="translate(4191 594.4) rotate(90)"><text transform="translate(-5.2 0.0) scale(0.9153 1)" style="font-family:'Liberation Serif',serif;font-size:197.0px;stroke:#fff;stroke-width:0.8px">D</text><text transform="translate(123.1 0.0) scale(0.9779 1)" style="font-family:'Liberation Serif',serif;font-size:197.0px;stroke:#fff;stroke-width:0.8px">T</text><text transform="translate(226.9 0.0) scale(0.8985 1)" style="font-family:'Liberation Serif',serif;font-size:197.0px;stroke:#fff;stroke-width:0.8px">A</text><text transform="translate(361.3 0.0) scale(0.9347 1)" style="font-family:'Liberation Serif',serif;font-size:197.0px;stroke:#fff;stroke-width:0.8px">E</text><text transform="translate(475.9 0.0) scale(0.9919 1)" style="font-family:'Liberation Serif',serif;font-size:197.0px;stroke:#fff;stroke-width:0.8px">x</text><text transform="translate(572.7 0.0) scale(0.9162 1)" style="font-family:'Liberation Serif',serif;font-size:197.0px;stroke:#fff;stroke-width:0.8px">o</text><text transform="translate(666.2 0.0) scale(0.8209 1)" style="font-family:'Liberation Serif',serif;font-size:197.0px;stroke:#fff;stroke-width:0.8px">U</text><text transform="translate(796.9 0.0) scale(1.0063 1)" style="font-family:'Liberation Serif',serif;font-size:197.0px;stroke:#fff;stroke-width:0.8px">P</text><text transform="translate(945.0 0.0) scale(1.0067 1)" style="font-family:'Liberation Serif',serif;font-size:197.0px;stroke:#fff;stroke-width:0.8px">/</text><text transform="translate(1048.0 0.0) scale(0.9910 1)" style="font-family:'Liberation Serif',serif;font-size:197.0px;stroke:#fff;stroke-width:0.8px">u</text><text transform="translate(1144.9 0.0) scale(0.8974 1)" style="font-family:'Liberation Serif',serif;font-size:197.0px;stroke:#fff;stroke-width:0.8px">V</text></g></g></svg>
</body></html>
